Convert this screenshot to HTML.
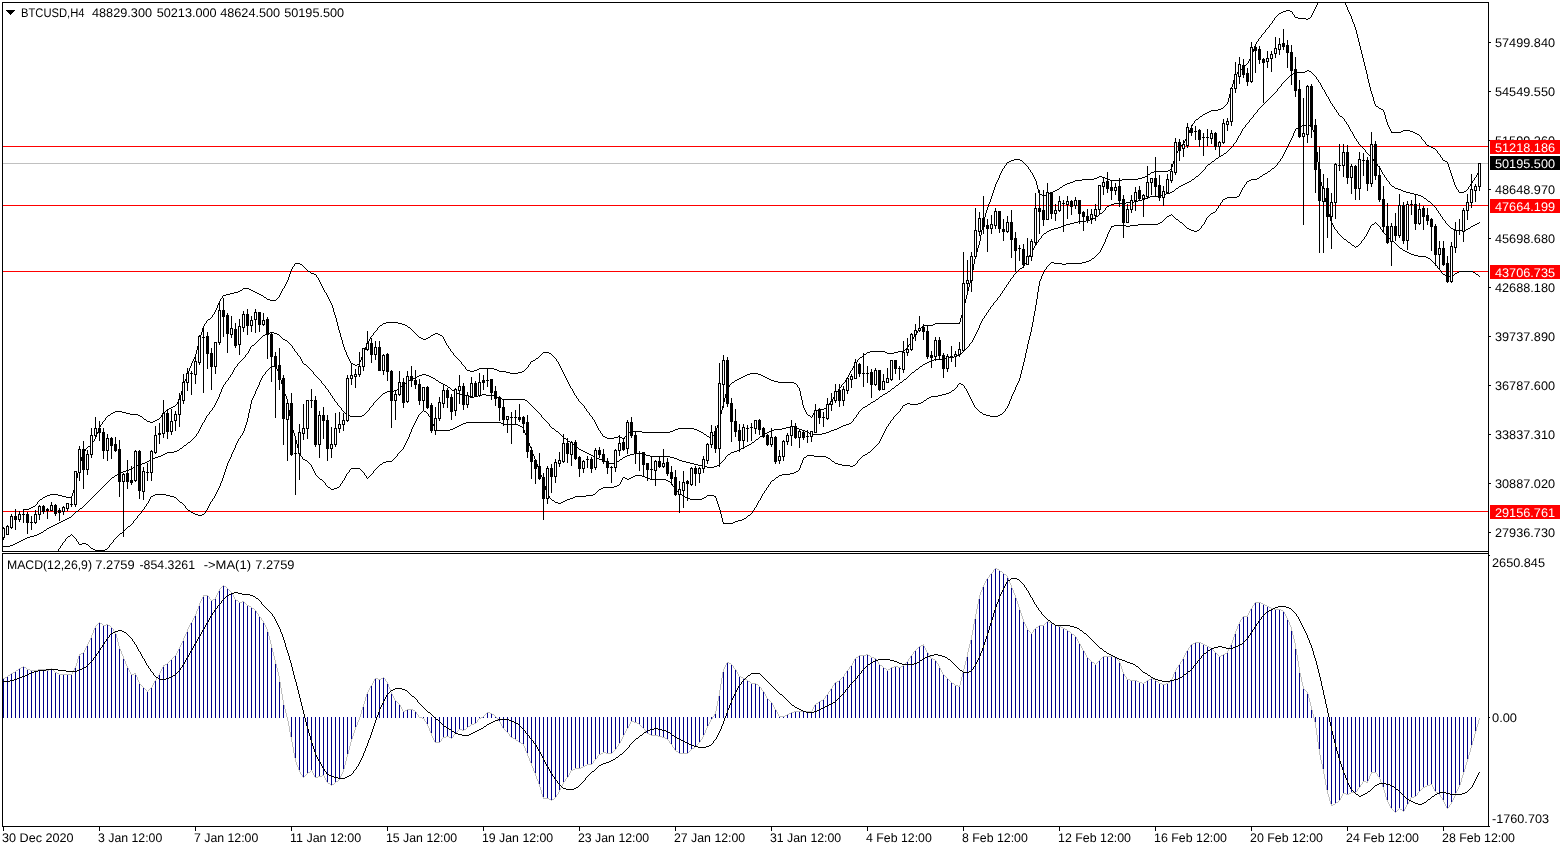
<!DOCTYPE html>
<html><head><meta charset="utf-8"><title>BTCUSD,H4</title>
<style>
html,body{margin:0;padding:0;background:#fff;}
body{width:1566px;height:850px;overflow:hidden;}
svg{display:block;}
.t{font-family:"Liberation Sans",sans-serif;font-size:12.5px;}
</style></head><body>
<svg width="1566" height="850" viewBox="0 0 1566 850" shape-rendering="crispEdges">
<rect x="3" y="163" width="1485" height="1" fill="#c0c0c0"/>
<rect x="3" y="146" width="1485" height="1" fill="#ff0000"/>
<rect x="3" y="205" width="1485" height="1" fill="#ff0000"/>
<rect x="3" y="271" width="1485" height="1" fill="#ff0000"/>
<rect x="3" y="511" width="1485" height="1" fill="#ff0000"/>
<path d="M340.5 333v4M1468.5 187v2M567.5 380v2M182.5 387v4M343.5 344v3M570.5 386v2M584.5 406v2M968.5 287v4M813.5 413v2M805.5 410v2M347.5 355v2M330.5 301v2M370.5 337v2M528.5 365v2M989.5 202v2M288.5 277v3M980.5 235v6M186.5 376v3M366.5 345v2M724.5 398v4M971.5 275v4M1361.5 50v4M854.5 364v2M1177.5 151v2M963.5 307v4M195.5 354v3M1347.5 7v3M1383.5 110v2M993.5 190v3M576.5 396v2M1348.5 10v2M712.5 436v2M975.5 255v4M1354.5 24v3M1294.5 15v2M369.5 339v2M595.5 422v2M1368.5 79v4M1371.5 91v3M1034.5 177v2M185.5 379v2M286.5 282v2M365.5 347v3M1192.5 124v2M568.5 382v2M217.5 305v3M1231.5 87v3M1175.5 155v3M1449.5 167v3M339.5 330v3M984.5 217v3M75.5 483v4M282.5 289v2M342.5 340v4M294.5 264v2M962.5 311v4M1452.5 176v3M1364.5 62v4M992.5 193v3M803.5 405v3M1004.5 166v2M1453.5 179v3M1365.5 66v4M328.5 297v2M331.5 303v2M1367.5 74v5M290.5 271v3M214.5 312v2M845.5 380v2M1000.5 173v2M719.5 418v4M966.5 295v4M184.5 381v3M1360.5 46v4M561.5 368v2M1191.5 126v2M100.5 425v2M1174.5 158v3M1349.5 12v2M1274.5 18v2M1346.5 5v2M1229.5 94v4M961.5 315v3M578.5 399v2M281.5 291v2M1353.5 22v2M1477.5 173v2M596.5 424v2M188.5 371v2M79.5 464v4M1171.5 167v2M1265.5 30v2M597.5 426v2M973.5 264v6M829.5 403v2M999.5 175v3M1370.5 87v4M1234.5 77v3M1470.5 184v2M362.5 355v2M1448.5 164v3M465.5 367v2M1311.5 15v2M98.5 429v3M200.5 335v4M1186.5 137v2M187.5 373v3M1232.5 84v3M289.5 274v3M986.5 210v3M560.5 366v2M563.5 372v2M1421.5 137v2M1373.5 97v4M219.5 301v2M322.5 286v2M1039.5 193v2M326.5 293v2M97.5 432v2M812.5 415v2M967.5 291v4M350.5 361v2M222.5 296v2M336.5 318v4M77.5 473v5M800.5 391v5M85.5 449v2M1362.5 54v4M218.5 303v2M801.5 396v4M284.5 286v2M280.5 293v2M292.5 267v2M1390.5 129v2M1235.5 75v2M92.5 442v2M1355.5 27v3M1251.5 55v2M105.5 418v2M1358.5 38v4M448.5 346v2M1472.5 181v2M838.5 389v2M321.5 284v2M1375.5 104v2M1038.5 189v4M569.5 384v2M834.5 395v2M908.5 345v2M348.5 357v2M804.5 408v2M349.5 359v2M197.5 346v4M1250.5 57v2M335.5 315v3M996.5 182v2M1258.5 39v2M1385.5 115v4M983.5 220v4M1350.5 14v2M1269.5 25v2M1187.5 135v2M1388.5 125v2M1254.5 46v3M96.5 434v3M833.5 397v2M1233.5 80v4M1178.5 149v2M964.5 303v4M450.5 349v2M1033.5 175v2M1425.5 142v2M995.5 184v3M802.5 400v5M853.5 366v2M982.5 224v6M1366.5 70v4M1454.5 182v3M1253.5 49v3M806.5 412v2M589.5 413v2M333.5 308v4M849.5 373v2M78.5 468v5M443.5 337v2M1359.5 42v4M977.5 248v4M994.5 187v3M626.5 434v2M852.5 368v2M1384.5 112v3M1002.5 169v2M199.5 339v3M848.5 375v2M981.5 230v5M1369.5 83v4M917.5 331v2M726.5 390v4M1035.5 179v2M913.5 337v2M985.5 213v4M453.5 353v2M194.5 357v2M1228.5 98v4M721.5 410v4M81.5 457v4M332.5 305v3M72.5 493v3M177.5 402v2M1317.5 3v2M206.5 321v2M364.5 350v2M562.5 370v2M716.5 428v3M565.5 376v2M912.5 339v2M202.5 328v4M324.5 290v2M181.5 391v4M345.5 350v2M71.5 496v2M988.5 204v3M1316.5 5v2M1437.5 151v2M99.5 427v2M201.5 332v3M530.5 362v2M974.5 259v5M368.5 341v2M196.5 350v4M220.5 299v2M564.5 374v2M285.5 284v2M723.5 402v4M74.5 487v3M323.5 288v2M344.5 347v3M718.5 422v3M556.5 359v2M1194.5 121v2M965.5 299v4M183.5 384v3M1345.5 3v2M1190.5 128v2M1006.5 163v2M1173.5 161v3M1352.5 19v3M960.5 318v4M729.5 385v2M847.5 377v2M1252.5 52v3M1476.5 175v2M998.5 178v2M1372.5 94v3M361.5 357v3M976.5 252v3M1456.5 187v2M279.5 295v2M190.5 366v2M291.5 269v2M558.5 362v2M76.5 478v5M1313.5 11v2M161.5 415v2M1351.5 16v3M1389.5 127v2M857.5 360v2M338.5 326v4M979.5 241v4M1451.5 173v3M814.5 411v2M1312.5 13v2M572.5 389v2M359.5 362v2M1458.5 190v2M180.5 395v4M586.5 409v2M95.5 437v2M367.5 343v2M461.5 362v2M216.5 308v2M1391.5 131v2M1237.5 72v2M212.5 315v2M94.5 439v2M1249.5 59v2M1036.5 181v4M1189.5 130v3M1450.5 170v3M573.5 391v2M215.5 310v2M1001.5 171v2M198.5 342v4M725.5 394v4M972.5 270v5M373.5 333v2M346.5 352v3M1172.5 164v3M189.5 368v3M80.5 461v3M598.5 428v2M602.5 434v2M797.5 385v2M1176.5 153v2M715.5 431v2M360.5 360v2M1357.5 34v4M987.5 207v3M1179.5 147v2M1037.5 185v4M83.5 452v2M1230.5 90v4M341.5 337v3M970.5 279v4M327.5 295v2M1455.5 185v2M334.5 312v3M600.5 431v2M337.5 322v4M1440.5 155v2M799.5 388v3M363.5 352v3M316.5 275v2M722.5 406v4M319.5 280v2M1387.5 122v3M82.5 454v3M969.5 283v4M73.5 490v3M592.5 417v2M1356.5 30v4M717.5 425v3M1248.5 61v2M1261.5 35v2M1256.5 42v2M1272.5 21v2M1185.5 139v2M997.5 180v2M445.5 341v2M1028.5 167v2M1442.5 158v2M318.5 278v2M377.5 328v2M1386.5 119v3M1188.5 133v2M1255.5 44v2M37.5 502v2M1227.5 102v2M720.5 414v4M1184.5 141v2M287.5 280v2M624.5 437v2M850.5 371v2M1030.5 170v2M444.5 339v2M978.5 245v3M1374.5 101v3M192.5 361v2M179.5 399v2M991.5 196v3M1478.5 171v2M727.5 388v2M1474.5 178v2M914.5 335v2M204.5 324v2M910.5 342v2M1363.5 58v4M836.5 392v2M191.5 363v3M574.5 393v2M990.5 199v3M832.5 399v2M1292.5 12v2M1032.5 173v2M203.5 326v2M566.5 378v2M329.5 299v2M959.5 322v2M594.5 420v2M193.5 359v2M841.5 385v2M320.5 282v2M1315.5 7v2M102.5 422v2M1447.5 162v2M714.5 433v2M559.5 364v2M446.5 343v2M1314.5 9v2M741 377.5h2M765 377.5h2M1392 132.5h9M1413 132.5h2M372 335.5h1M417 335.5h1M431 335.5h2M440 335.5h2M205 323.5h1M383 323.5h3M398 323.5h4M935 323.5h24M706 435.5h1M713 435.5h1M1224 106.5h1M1376 106.5h2M1075 180.5h7M1110 180.5h12M1473 180.5h1M111 413.5h2M126 413.5h4M163 413.5h1M113 412.5h2M122 412.5h4M164 412.5h1M588 412.5h1M459 360.5h1M533 360.5h2M144 419.5h2M157 419.5h2M593 419.5h1M386 322.5h12M353 364.5h2M357 364.5h2M462 364.5h1M529 364.5h1M678 428.5h16M1082 179.5h12M1107 179.5h3M1122 179.5h16M1168 170.5h2M1479 170.5h1M457 358.5h1M536 358.5h2M555 358.5h1M859 358.5h1M1283 11.5h3M1290 11.5h2M1154 171.5h14M264 297.5h2M278 297.5h1M452 352.5h1M543 352.5h6M867 352.5h3M885 352.5h2M894 352.5h4M743 376.5h2M763 376.5h2M1148 174.5h2M45 496.5h2M62 496.5h4M1005 165.5h1M1026 165.5h1M411 329.5h1M919 329.5h1M1298 18.5h8M1308 18.5h2M1051 192.5h2M1459 192.5h5M605 437.5h2M614 437.5h4M620 437.5h2M709 437.5h2M1057 189.5h2M1457 189.5h1M1467 189.5h1M93 441.5h1M1053 191.5h2M1464 191.5h2M1031 172.5h1M1151 172.5h3M173 406.5h2M827 406.5h1M240 290.5h2M251 290.5h2M542 353.5h1M549 353.5h2M866 353.5h1M887 353.5h7M455 356.5h1M539 356.5h1M553 356.5h1M862 356.5h1M571 388.5h1M839 388.5h1M601 433.5h1M627 433.5h2M703 433.5h1M371 336.5h1M418 336.5h1M430 336.5h1M442 336.5h1M1239 70.5h1M732 382.5h2M778 382.5h16M844 382.5h1M451 351.5h1M870 351.5h15M898 351.5h6M208 319.5h2M510 373.5h8M750 373.5h8M479 368.5h15M526 368.5h1M1218 109.5h3M1381 109.5h2M1417 134.5h2M167 409.5h2M818 409.5h6M1419 135.5h1M1401 131.5h2M1410 131.5h3M506 372.5h4M518 372.5h4M599 430.5h1M673 430.5h2M697 430.5h2M243 288.5h6M283 288.5h1M1240 69.5h2M293 266.5h1M303 266.5h1M470 371.5h4M499 371.5h7M522 371.5h2M603 436.5h2M618 436.5h2M625 436.5h1M707 436.5h2M1063 185.5h2M106 417.5h1M142 417.5h1M160 417.5h1M811 417.5h1M107 416.5h1M140 416.5h2M591 416.5h1M810 416.5h1M1040 194.5h2M1046 194.5h3M419 337.5h2M428 337.5h2M375 331.5h1M413 331.5h1M1065 184.5h2M234 292.5h4M255 292.5h2M325 292.5h1M108 415.5h2M138 415.5h2M590 415.5h1M808 415.5h2M629 432.5h2M642 432.5h28M701 432.5h2M1182 144.5h1M1426 144.5h1M1225 105.5h1M223 295.5h3M261 295.5h2M175 405.5h1M583 405.5h1M828 405.5h1M103 421.5h1M147 421.5h3M153 421.5h2M382 324.5h1M402 324.5h3M933 324.5h2M1431 147.5h2M110 414.5h1M130 414.5h8M162 414.5h1M807 414.5h1M1403 130.5h7M1150 173.5h1M42 498.5h1M380 325.5h2M405 325.5h2M923 325.5h10M581 403.5h1M460 361.5h1M531 361.5h2M557 361.5h1M607 438.5h7M622 438.5h1M711 438.5h1M143 418.5h1M159 418.5h1M467 370.5h3M474 370.5h3M497 370.5h2M524 370.5h1M851 370.5h1M169 408.5h2M585 408.5h1M824 408.5h2M1009 161.5h2M1022 161.5h1M1445 161.5h2M1073 181.5h2M454 355.5h1M540 355.5h1M552 355.5h1M863 355.5h1M1211 110.5h7M242 289.5h1M249 289.5h2M835 394.5h1M29 508.5h2M47 495.5h3M58 495.5h4M171 407.5h2M826 407.5h1M1423 140.5h1M1011 160.5h3M1020 160.5h2M1443 160.5h2M1247 63.5h1M1007 162.5h2M1023 162.5h1M1275 17.5h1M1295 17.5h3M1310 17.5h1M1203 114.5h2M1270 24.5h1M1097 177.5h2M1102 177.5h3M1142 177.5h3M1475 177.5h1M1238 71.5h1M213 314.5h1M226 294.5h4M259 294.5h2M1245 65.5h1M739 378.5h2M767 378.5h2M1180 146.5h1M1429 146.5h2M50 494.5h8M911 341.5h1M734 381.5h1M774 381.5h4M1055 190.5h2M1466 190.5h1M907 347.5h1M355 365.5h2M463 365.5h1M43 497.5h2M66 497.5h5M36 504.5h1M104 420.5h1M146 420.5h1M155 420.5h2M1183 143.5h1M456 357.5h1M538 357.5h1M554 357.5h1M860 357.5h2M631 431.5h11M670 431.5h3M699 431.5h2M379 326.5h1M407 326.5h1M922 326.5h1M374 332.5h1M414 332.5h1M1147 175.5h1M1094 178.5h3M1105 178.5h2M1138 178.5h4M466 369.5h1M477 369.5h2M494 369.5h3M525 369.5h1M1181 145.5h1M1427 145.5h2M1014 159.5h6M23 509.5h6M1070 182.5h3M730 384.5h1M796 384.5h1M842 384.5h1M1196 119.5h2M267 299.5h3M276 299.5h1M178 401.5h1M579 401.5h1M831 401.5h1M747 374.5h3M758 374.5h3M541 354.5h1M551 354.5h1M864 354.5h2M207 320.5h1M1435 149.5h1M314 274.5h2M1042 195.5h4M1099 176.5h3M1145 176.5h2M351 363.5h2M855 363.5h1M270 300.5h6M415 333.5h1M435 333.5h3M916 333.5h1M1246 64.5h1M230 293.5h4M257 293.5h2M1281 12.5h2M527 367.5h1M33 506.5h2M731 383.5h1M794 383.5h2M843 383.5h1M458 359.5h1M535 359.5h1M858 359.5h1M1262 34.5h1M1415 133.5h2M737 379.5h2M769 379.5h2M846 379.5h1M1257 41.5h1M305 268.5h1M1306 19.5h2M40 499.5h2M35 505.5h1M86 448.5h1M378 327.5h1M408 327.5h2M921 327.5h1M300 264.5h2M1422 139.5h1M166 410.5h1M815 410.5h3M704 434.5h2M735 380.5h2M771 380.5h3M1003 168.5h1M1025 164.5h1M728 387.5h1M798 387.5h1M840 387.5h1M1439 154.5h1M1221 108.5h2M1379 108.5h2M307 270.5h1M1420 136.5h1M421 338.5h2M426 338.5h2M115 411.5h7M165 411.5h1M587 411.5h1M295 263.5h5M1278 14.5h1M1293 14.5h1M317 277.5h1M745 375.5h2M761 375.5h2M1029 169.5h1M1170 169.5h1M1433 148.5h2M263 296.5h1M311 273.5h3M1209 111.5h2M84 451.5h1M575 395.5h1M91 444.5h1M238 291.5h2M253 291.5h2M1202 115.5h1M1286 10.5h4M416 334.5h1M433 334.5h2M438 334.5h2M915 334.5h1M1193 123.5h1M1424 141.5h1M1244 66.5h1M304 267.5h1M376 330.5h1M412 330.5h1M918 330.5h1M1060 187.5h2M1200 116.5h2M675 429.5h3M694 429.5h3M1268 27.5h1M1027 166.5h1M211 317.5h1M1263 33.5h1M1279 13.5h2M1067 183.5h3M1471 183.5h1M310 272.5h1M904 350.5h1M221 298.5h1M266 298.5h1M277 298.5h1M1438 153.5h1M306 269.5h1M1195 120.5h1M90 445.5h1M1436 150.5h1M1273 20.5h1M423 339.5h3M1236 74.5h1M449 348.5h1M906 348.5h1M1062 186.5h1M1469 186.5h1M150 422.5h3M464 366.5h1M1243 67.5h1M1267 28.5h1M1223 107.5h1M1378 107.5h1M210 318.5h1M1207 112.5h2M302 265.5h1M410 328.5h1M920 328.5h1M176 404.5h1M582 404.5h1M447 345.5h1M87 447.5h1M308 271.5h2M837 391.5h1M623 439.5h1M1198 118.5h1M1059 188.5h1M88 446.5h2M1277 15.5h1M577 398.5h1M905 349.5h1M856 362.5h1M1260 37.5h1M1271 23.5h1M1049 193.5h2M580 402.5h1M830 402.5h1M1226 104.5h1M31 507.5h2M1276 16.5h1M909 344.5h1M1205 113.5h2M38 501.5h1M1024 163.5h1M1264 32.5h1M1259 38.5h1M1199 117.5h1M1441 157.5h1M1242 68.5h1M1266 29.5h1M39 500.5h1M101 424.5h1" fill="none" stroke="#000" stroke-width="1"/>
<path d="M1334.5 107v2M979.5 325v3M1338.5 113v2M1353.5 134v2M297.5 353v2M549.5 424v2M301.5 359v2M216.5 401v2M1326.5 94v2M337.5 403v2M212.5 408v2M341.5 408v2M1010.5 279v2M1233.5 144v2M1440.5 214v2M1373.5 159v2M215.5 403v2M1336.5 110v2M206.5 416v2M1249.5 120v2M1354.5 136v2M1365.5 150v2M1004.5 288v2M202.5 423v2M972.5 340v2M325.5 386v2M1000.5 294v2M1328.5 97v2M1240.5 133v2M1105.5 208v2M205.5 418v2M988.5 310v2M201.5 425v2M1036.5 243v2M982.5 319v2M245.5 355v2M196.5 434v2M1238.5 136v2M853.5 419v2M1384.5 175v2M1253.5 115v2M223.5 385v2M993.5 303v2M1008.5 282v2M321.5 381v2M1380.5 168v2M984.5 316v2M1325.5 92v2M222.5 387v2M1442.5 217v2M1386.5 178v2M233.5 370v2M249.5 349v2M1034.5 246v2M302.5 361v2M1030.5 253v2M209.5 412v2M858.5 412v2M978.5 328v2M1026.5 261v2M232.5 372v2M1445.5 221v2M1320.5 83v2M228.5 378v2M1389.5 182v2M1013.5 275v2M973.5 338v2M969.5 344v2M1257.5 110v2M997.5 298v2M1344.5 119v2M219.5 394v3M369.5 408v2M725.5 457v2M328.5 390v2M1349.5 127v2M237.5 364v2M248.5 351v2M1006.5 285v2M204.5 420v2M974.5 336v2M1002.5 291v2M200.5 427v2M330.5 393v2M1242.5 129v2M1041.5 236v2M1245.5 125v2M1377.5 164v2M1381.5 170v2M199.5 429v2M981.5 321v2M1241.5 131v2M1329.5 99v2M1237.5 138v2M292.5 346v2M1318.5 80v2M1321.5 85v2M198.5 431v2M980.5 323v2M1236.5 140v2M217.5 399v2M313.5 372v2M1346.5 122v2M990.5 307v2M1356.5 139v2M986.5 313v2M1277.5 89v2M1348.5 125v2M300.5 357v2M977.5 330v2M1358.5 142v2M218.5 397v2M214.5 405v2M332.5 396v2M856.5 415v2M225.5 382v2M221.5 389v3M294.5 349v2M334.5 399v2M1281.5 84v2M1330.5 101v2M1032.5 250v2M1322.5 87v2M234.5 368v2M1436.5 208v2M250.5 347v2M230.5 375v2M541.5 415v2M1205.5 167v2M1332.5 104v2M1027.5 259v2M1350.5 129v2M1324.5 90v2M373.5 403v2M1038.5 240v2M1316.5 77v2M1352.5 132v2M220.5 392v2M1033.5 248v2M1029.5 255v2M1028.5 257v2M976.5 332v2M1024.5 264v2M975.5 334v2M1438.5 211v2M1382.5 172v2M1074 222.5h4M1479 222.5h1M92 497.5h1M1172 191.5h2M1403 191.5h3M197 433.5h1M559 433.5h1M765 433.5h2M809 433.5h2M822 433.5h4M326 388.5h1M399 388.5h1M450 388.5h1M892 388.5h2M339 406.5h1M371 406.5h1M532 406.5h1M865 406.5h2M142 463.5h3M607 463.5h7M690 463.5h4M720 463.5h1M161 455.5h2M591 455.5h2M627 455.5h3M646 455.5h4M727 455.5h1M394 390.5h3M452 390.5h2M890 390.5h1M149 460.5h2M602 460.5h2M619 460.5h1M679 460.5h3M723 460.5h1M377 399.5h1M502 399.5h23M876 399.5h2M1191 180.5h1M1387 180.5h1M406 382.5h1M439 382.5h2M900 382.5h2M1049 230.5h2M1455 230.5h11M387 391.5h7M454 391.5h1M888 391.5h2M335 401.5h1M375 401.5h1M527 401.5h1M873 401.5h2M1230 148.5h1M1363 148.5h1M383 393.5h2M457 393.5h2M885 393.5h2M336 402.5h1M374 402.5h1M528 402.5h1M871 402.5h2M550 426.5h1M790 426.5h4M841 426.5h2M1147 197.5h3M1423 197.5h1M99 490.5h1M561 435.5h1M762 435.5h1M158 456.5h3M593 456.5h2M625 456.5h2M650 456.5h20M726 456.5h1M1109 205.5h2M1433 205.5h1M846 424.5h3M145 462.5h2M606 462.5h1M614 462.5h3M686 462.5h4M721 462.5h1M558 432.5h1M767 432.5h2M807 432.5h2M826 432.5h3M350 416.5h12M554 429.5h1M774 429.5h8M799 429.5h3M834 429.5h3M241 360.5h1M931 360.5h3M316 376.5h1M417 376.5h2M429 376.5h2M908 376.5h1M133 467.5h2M707 467.5h7M13 544.5h2M165 453.5h2M587 453.5h2M634 453.5h8M730 453.5h1M1345 121.5h1M1162 194.5h4M1414 194.5h4M106 483.5h1M1211 162.5h1M1375 162.5h1M147 461.5h2M604 461.5h2M617 461.5h2M682 461.5h4M722 461.5h1M299 356.5h1M954 356.5h3M1086 220.5h4M1444 220.5h1M555 430.5h1M771 430.5h3M802 430.5h3M831 430.5h3M379 397.5h1M470 397.5h4M497 397.5h2M879 397.5h1M1212 161.5h2M1374 161.5h1M311 370.5h1M915 370.5h1M1183 184.5h2M1390 184.5h1M244 357.5h1M946 357.5h8M1016 272.5h1M1179 186.5h2M1392 186.5h2M1138 200.5h4M1427 200.5h1M1063 225.5h3M1448 225.5h1M1473 225.5h2M71 516.5h1M382 394.5h1M459 394.5h3M482 394.5h4M883 394.5h2M211 410.5h1M342 410.5h1M368 410.5h1M536 410.5h1M860 410.5h1M174 451.5h3M583 451.5h2M734 451.5h3M231 374.5h1M314 374.5h1M422 374.5h4M910 374.5h1M1058 227.5h3M1450 227.5h1M1470 227.5h1M331 395.5h1M381 395.5h1M462 395.5h4M478 395.5h4M486 395.5h8M882 395.5h1M552 428.5h2M782 428.5h4M797 428.5h2M837 428.5h2M163 454.5h2M589 454.5h2M630 454.5h4M642 454.5h4M728 454.5h2M139 464.5h3M694 464.5h4M719 464.5h1M1351 131.5h1M256 342.5h1M288 342.5h1M971 342.5h1M34 535.5h3M318 378.5h1M413 378.5h2M433 378.5h2M906 378.5h1M1093 218.5h2M1305 71.5h2M1309 71.5h2M183 446.5h1M575 446.5h1M745 446.5h2M227 380.5h1M320 380.5h1M409 380.5h2M436 380.5h2M903 380.5h1M1020 268.5h2M1295 72.5h10M1311 72.5h1M1174 190.5h1M1401 190.5h2M1078 221.5h8M213 407.5h1M340 407.5h1M370 407.5h1M533 407.5h1M863 407.5h2M1221 155.5h2M1369 155.5h1M964 350.5h1M1043 234.5h1M1070 223.5h4M1446 223.5h1M1477 223.5h2M151 459.5h2M599 459.5h3M620 459.5h2M677 459.5h2M724 459.5h1M259 339.5h1M283 339.5h2M1189 181.5h2M1388 181.5h1M86 503.5h1M1248 122.5h1M167 452.5h7M585 452.5h2M731 452.5h3M123 471.5h3M182 447.5h1M576 447.5h2M743 447.5h2M1243 128.5h1M1210 163.5h1M1376 163.5h1M119 473.5h2M1259 108.5h1M46 529.5h1M1274 93.5h1M1239 135.5h1M135 466.5h2M705 466.5h2M714 466.5h3M93 496.5h1M1291 74.5h2M1313 74.5h1M65 519.5h2M1235 142.5h1M263 335.5h2M279 335.5h1M61 521.5h2M1187 182.5h2M105 484.5h1M262 336.5h1M280 336.5h1M270 332.5h4M252 345.5h2M291 345.5h1M1224 153.5h2M1367 153.5h1M184 445.5h2M574 445.5h1M747 445.5h2M208 414.5h1M346 414.5h1M364 414.5h1M540 414.5h1M857 414.5h1M1293 73.5h2M1312 73.5h1M1227 151.5h1M1150 196.5h8M1421 196.5h2M1199 174.5h1M1383 174.5h1M242 359.5h1M934 359.5h8M1015 273.5h1M1145 198.5h2M1424 198.5h2M240 361.5h1M929 361.5h2M112 477.5h2M1134 201.5h4M1428 201.5h2M1158 195.5h4M1418 195.5h3M1126 202.5h8M1430 202.5h1M190 441.5h1M568 441.5h2M754 441.5h1M556 431.5h2M769 431.5h2M805 431.5h2M829 431.5h2M1175 189.5h1M1398 189.5h3M1206 166.5h1M1378 166.5h1M153 458.5h2M597 458.5h2M622 458.5h1M674 458.5h3M312 371.5h1M914 371.5h1M1307 70.5h2M243 358.5h1M942 358.5h4M1203 170.5h1M843 425.5h3M53 525.5h2M114 476.5h1M324 385.5h1M402 385.5h1M445 385.5h2M896 385.5h2M1340 116.5h2M229 377.5h1M317 377.5h1M415 377.5h2M431 377.5h2M907 377.5h1M72 515.5h1M1009 281.5h1M1061 226.5h2M1449 226.5h1M1471 226.5h2M298 355.5h1M957 355.5h2M530 404.5h1M868 404.5h2M261 337.5h1M281 337.5h1M338 405.5h1M372 405.5h1M531 405.5h1M867 405.5h1M260 338.5h1M282 338.5h1M194 437.5h1M563 437.5h1M759 437.5h1M177 450.5h2M581 450.5h2M737 450.5h2M1166 193.5h4M1410 193.5h4M55 524.5h2M193 438.5h1M564 438.5h2M758 438.5h1M1095 217.5h1M79 509.5h1M1261 106.5h1M1333 106.5h1M180 448.5h2M578 448.5h1M741 448.5h2M380 396.5h1M466 396.5h4M474 396.5h4M494 396.5h3M880 396.5h2M21 540.5h2M210 411.5h1M343 411.5h1M367 411.5h1M537 411.5h1M859 411.5h1M69 517.5h2M551 427.5h1M786 427.5h4M794 427.5h3M839 427.5h2M137 465.5h2M698 465.5h7M717 465.5h2M1268 99.5h1M306 365.5h1M922 365.5h1M344 412.5h1M366 412.5h1M538 412.5h1M319 379.5h1M411 379.5h2M435 379.5h1M904 379.5h2M265 334.5h2M277 334.5h2M560 434.5h1M763 434.5h2M811 434.5h11M999 296.5h1M1280 86.5h1M1275 92.5h1M295 351.5h1M963 351.5h1M1252 117.5h1M1342 117.5h1M1100 213.5h2M1439 213.5h1M85 504.5h1M224 384.5h1M323 384.5h1M403 384.5h1M443 384.5h2M898 384.5h1M304 364.5h2M923 364.5h2M376 400.5h1M525 400.5h2M875 400.5h1M987 312.5h1M1035 245.5h1M1114 203.5h12M1431 203.5h1M1278 88.5h1M1176 188.5h2M1395 188.5h3M1286 79.5h1M1317 79.5h1M1111 204.5h3M1432 204.5h1M345 413.5h1M365 413.5h1M539 413.5h1M1031 252.5h1M1107 206.5h2M1434 206.5h1M15 543.5h2M257 341.5h1M287 341.5h1M1290 75.5h1M1314 75.5h1M10 545.5h3M258 340.5h1M285 340.5h2M315 375.5h1M419 375.5h3M426 375.5h3M909 375.5h1M3 546.5h7M104 485.5h1M155 457.5h3M595 457.5h2M623 457.5h2M670 457.5h4M1170 192.5h2M1406 192.5h4M1226 152.5h1M1366 152.5h1M1204 169.5h1M1014 274.5h1M49 527.5h2M1271 96.5h1M1327 96.5h1M255 343.5h1M289 343.5h1M970 343.5h1M111 478.5h1M129 469.5h2M30 536.5h4M267 333.5h3M274 333.5h3M1096 216.5h2M1441 216.5h1M187 443.5h1M571 443.5h1M751 443.5h1M236 366.5h1M307 366.5h1M920 366.5h2M1207 165.5h1M235 367.5h1M308 367.5h1M919 367.5h1M1283 82.5h1M1319 82.5h1M51 526.5h2M911 373.5h1M998 297.5h1M1256 112.5h1M1337 112.5h1M1254 114.5h1M188 442.5h2M570 442.5h1M752 442.5h2M546 421.5h1M852 421.5h1M1025 263.5h1M1355 138.5h1M238 363.5h1M303 363.5h1M925 363.5h2M78 510.5h1M1260 107.5h1M1054 228.5h4M1451 228.5h2M1468 228.5h2M179 449.5h1M579 449.5h2M739 449.5h2M327 389.5h1M397 389.5h2M451 389.5h1M891 389.5h1M121 472.5h2M1251 118.5h1M1343 118.5h1M195 436.5h1M562 436.5h1M760 436.5h2M1216 158.5h2M1372 158.5h1M992 305.5h1M91 498.5h1M1246 124.5h1M1347 124.5h1M1040 238.5h1M192 439.5h1M566 439.5h1M756 439.5h2M1264 103.5h1M1331 103.5h1M1284 81.5h1M1066 224.5h4M1447 224.5h1M1475 224.5h2M191 440.5h1M567 440.5h1M755 440.5h1M310 369.5h1M916 369.5h2M1279 87.5h1M1181 185.5h2M1391 185.5h1M98 491.5h1M1142 199.5h3M1426 199.5h1M1047 231.5h2M41 532.5h2M333 398.5h1M378 398.5h1M499 398.5h3M878 398.5h1M1339 115.5h1M1357 141.5h1M1232 146.5h1M1361 146.5h1M529 403.5h1M870 403.5h1M400 387.5h1M448 387.5h2M894 387.5h1M239 362.5h1M927 362.5h2M535 409.5h1M861 409.5h1M131 468.5h2M1022 267.5h1M126 470.5h3M912 372.5h2M207 415.5h1M347 415.5h3M362 415.5h2M67 518.5h2M186 444.5h1M572 444.5h2M749 444.5h2M293 348.5h1M966 348.5h1M329 392.5h1M385 392.5h2M455 392.5h2M887 392.5h1M75 512.5h1M1273 94.5h1M247 353.5h1M960 353.5h2M1102 212.5h1M1214 160.5h1M59 522.5h2M1185 183.5h2M309 368.5h1M918 368.5h1M83 506.5h1M203 422.5h1M547 422.5h1M851 422.5h1M251 346.5h1M968 346.5h1M43 531.5h1M1044 233.5h2M90 499.5h1M1039 239.5h1M1231 147.5h1M1362 147.5h1M1051 229.5h3M1453 229.5h2M1466 229.5h2M27 537.5h3M1178 187.5h1M1394 187.5h1M97 492.5h1M322 383.5h1M404 383.5h2M441 383.5h2M899 383.5h1M1046 232.5h1M1196 176.5h2M109 480.5h1M1192 179.5h2M226 381.5h1M407 381.5h2M438 381.5h1M902 381.5h1M1208 164.5h2M1019 269.5h1M1011 278.5h1M1229 149.5h1M1364 149.5h1M1090 219.5h3M1443 219.5h1M1323 89.5h1M76 511.5h2M115 475.5h2M1218 157.5h1M1371 157.5h1M17 542.5h2M296 352.5h1M962 352.5h1M1265 102.5h1M1285 80.5h1M542 417.5h1M855 417.5h1M1001 293.5h1M401 386.5h1M447 386.5h1M895 386.5h1M1106 207.5h1M1435 207.5h1M1272 95.5h1M39 533.5h2M1269 98.5h1M1289 76.5h1M1315 76.5h1M989 309.5h1M534 408.5h1M862 408.5h1M82 507.5h1M103 486.5h1M1276 91.5h1M89 500.5h1M254 344.5h1M290 344.5h1M110 479.5h1M544 419.5h1M1201 172.5h1M1012 277.5h1M108 481.5h1M1007 284.5h1M1223 154.5h1M1368 154.5h1M1018 270.5h1M1003 290.5h1M1215 159.5h1M246 354.5h1M959 354.5h1M991 306.5h1M84 505.5h1M1359 144.5h1M1360 145.5h1M1266 101.5h1M57 523.5h2M117 474.5h2M994 302.5h1M1098 215.5h1M88 501.5h1M1250 119.5h1M985 315.5h1M25 538.5h2M95 494.5h1M1194 178.5h1M1288 77.5h1M102 487.5h1M47 528.5h2M1379 167.5h1M19 541.5h2M1200 173.5h1M74 513.5h1M1247 123.5h1M1023 266.5h1M548 423.5h1M849 423.5h2M1258 109.5h1M1335 109.5h1M967 347.5h1M995 301.5h1M1270 97.5h1M37 534.5h2M1104 210.5h1M1437 210.5h1M1099 214.5h1M80 508.5h2M1262 105.5h1M1103 211.5h1M1195 177.5h1M1385 177.5h1M87 502.5h1M1037 242.5h1M1202 171.5h1M94 495.5h1M44 530.5h2M101 488.5h1M73 514.5h1M543 418.5h1M854 418.5h1M1282 83.5h1M96 493.5h1M23 539.5h2M1219 156.5h2M1370 156.5h1M1042 235.5h1M100 489.5h1M63 520.5h2M107 482.5h1M1234 143.5h1M545 420.5h1M1017 271.5h1M1198 175.5h1M1005 287.5h1M996 300.5h1M965 349.5h1M1263 104.5h1M1244 127.5h1M1255 113.5h1M1267 100.5h1M1287 78.5h1M1228 150.5h1M983 318.5h1" fill="none" stroke="#000" stroke-width="1"/>
<path d="M1044.5 270v2M1318.5 162v10M1311.5 125v2M1361.5 241v2M144.5 507v2M288.5 404v6M722.5 518v4M957.5 385v2M366.5 476v2M258.5 385v2M432.5 421v3M1110.5 228v2M418.5 415v2M1323.5 190v4M1041.5 276v3M1295.5 129v2M1283.5 154v2M246.5 422v3M137.5 516v2M281.5 380v4M1317.5 152v10M284.5 391v3M718.5 504v3M230.5 457v2M537.5 464v3M1013.5 392v2M799.5 468v2M249.5 409v4M312.5 467v2M540.5 472v3M1314.5 132v3M1035.5 305v6M302.5 457v2M435.5 429v2M1040.5 279v2M78.5 542v2M345.5 476v2M254.5 394v2M244.5 428v3M1025.5 353v5M1326.5 202v4M886.5 427v2M1327.5 206v4M1329.5 214v3M240.5 436v2M373.5 471v2M721.5 514v4M248.5 413v5M971.5 399v2M525.5 433v2M1034.5 311v5M1020.5 374v4M1337.5 231v2M1316.5 142v10M1322.5 186v4M1009.5 401v3M280.5 376v4M1038.5 286v6M529.5 443v3M1367.5 232v2M283.5 388v3M535.5 459v3M1005.5 409v2M1017.5 383v2M243.5 431v2M885.5 429v2M1037.5 292v7M297.5 444v4M411.5 429v3M227.5 463v3M542.5 477v3M1312.5 127v3M881.5 437v2M58.5 549v2M1382.5 230v2M325.5 483v2M1313.5 130v2M545.5 486v4M622.5 478v2M1100.5 250v2M247.5 418v4M434.5 426v3M674.5 487v2M235.5 445v3M290.5 416v6M1033.5 316v6M1366.5 234v2M149.5 499v2M719.5 507v3M969.5 395v2M410.5 432v2M275.5 365v2M524.5 430v3M234.5 448v2M530.5 446v2M531.5 448v3M1107.5 234v3M295.5 436v4M534.5 456v3M1292.5 136v2M250.5 404v5M409.5 434v3M1331.5 221v2M1010.5 399v2M1324.5 194v4M221.5 481v2M1106.5 237v2M1291.5 138v2M1031.5 327v5M242.5 433v2M1036.5 299v6M298.5 448v4M428.5 414v2M238.5 439v2M1320.5 178v4M1039.5 281v5M547.5 493v2M253.5 396v2M293.5 430v3M220.5 483v3M294.5 433v3M1104.5 242v2M1290.5 140v2M1204.5 222v2M1330.5 217v4M1220.5 203v2M1286.5 148v2M882.5 435v2M1022.5 366v4M1008.5 404v2M1216.5 209v2M532.5 451v3M1016.5 385v2M286.5 396v3M539.5 469v3M62.5 543v2M430.5 417v2M311.5 465v2M1029.5 336v4M314.5 471v2M546.5 490v3M349.5 470v2M76.5 539v2M762.5 494v2M231.5 454v3M1328.5 210v4M801.5 463v2M758.5 501v2M1277.5 163v2M1441.5 271v2M723.5 522v2M754.5 508v2M973.5 403v2M970.5 397v2M1321.5 182v4M406.5 441v2M210.5 502v2M1032.5 322v5M900.5 409v2M313.5 469v2M541.5 475v2M291.5 422v5M405.5 443v2M417.5 417v2M413.5 425v2M205.5 511v2M229.5 459v2M1102.5 246v2M768.5 485v2M237.5 441v2M1244.5 185v2M972.5 401v2M1287.5 146v2M526.5 435v3M277.5 369v2M1240.5 192v2M416.5 419v2M1026.5 349v4M265.5 372v2M412.5 427v2M536.5 462v2M148.5 501v2M261.5 378v2M964.5 386v2M1030.5 332v4M216.5 492v2M1333.5 225v2M236.5 443v2M212.5 499v2M1282.5 156v2M1294.5 131v2M1239.5 194v2M146.5 504v2M720.5 510v4M260.5 380v2M1012.5 394v2M215.5 494v2M276.5 367v2M223.5 475v3M549.5 496v2M1293.5 133v3M344.5 478v2M207.5 508v2M800.5 465v3M757.5 503v2M1024.5 358v4M966.5 389v2M1011.5 396v3M1332.5 223v2M289.5 410v6M1028.5 340v4M255.5 391v3M1370.5 226v2M1019.5 378v3M222.5 478v3M715.5 496v2M888.5 424v2M285.5 394v2M884.5 431v2M226.5 466v3M544.5 483v3M404.5 445v2M1027.5 344v5M109.5 545v2M883.5 433v2M225.5 469v3M1201.5 226v2M233.5 450v2M1319.5 172v6M364.5 473v2M1043.5 272v2M543.5 480v3M185.5 506v2M1021.5 370v4M315.5 473v2M257.5 387v2M232.5 452v2M1046.5 267v2M1042.5 274v2M893.5 417v2M279.5 373v3M256.5 389v2M282.5 384v4M296.5 440v4M538.5 467v2M1315.5 135v7M1369.5 228v2M1007.5 406v2M857.5 461v2M251.5 400v4M397.5 454v2M1015.5 387v3M1206.5 218v2M1023.5 362v4M1380.5 227v2M880.5 439v2M278.5 371v2M1368.5 230v2M1018.5 381v2M113.5 540v2M1364.5 237v2M968.5 393v2M1101.5 248v2M1334.5 227v2M879.5 441v2M1109.5 230v2M802.5 460v3M245.5 425v3M717.5 501v3M287.5 399v5M300.5 454v2M1108.5 232v2M716.5 498v3M299.5 452v2M621.5 480v2M1205.5 220v2M60.5 546v2M764.5 491v2M141.5 511v2M620.5 482v2M760.5 498v2M803.5 458v2M533.5 454v2M756.5 505v2M1014.5 390v2M408.5 437v2M431.5 419v2M752.5 511v2M224.5 472v3M346.5 474v2M1105.5 239v3M342.5 481v2M407.5 439v2M974.5 405v2M528.5 441v2M890.5 421v2M252.5 398v2M1437.5 266v2M219.5 486v2M1289.5 142v2M766.5 488v2M1285.5 150v2M1242.5 188v2M414.5 423v2M150.5 497v2M1325.5 198v4M65.5 539v2M218.5 488v2M1103.5 244v2M259.5 382v3M1222.5 200v2M1288.5 144v2M1218.5 206v2M1284.5 152v2M1241.5 190v2M527.5 438v3M292.5 427v3M761.5 496v2M1280.5 159v2M262.5 376v2M217.5 490v2M209.5 504v2M672.5 484v2M208.5 506v2M902.5 406v2M228.5 461v2M967.5 391v2M403.5 447v2M415.5 421v2M340.5 484v2M770.5 482v2M1246.5 182v2M433.5 424v2M523.5 428v2M214.5 496v2M1111.5 226v2M133.5 521v2M1440 270.5h1M132 523.5h1M724 523.5h9M1095 256.5h1M1418 256.5h8M395 457.5h1M804 457.5h2M826 457.5h2M861 457.5h1M1114 225.5h12M1130 225.5h8M1184 225.5h1M1202 225.5h1M1371 225.5h1M1378 225.5h1M179 501.5h1M211 501.5h1M554 501.5h1M563 501.5h2M1050 263.5h1M1054 263.5h8M1066 263.5h16M1434 263.5h1M466 422.5h35M351 468.5h9M376 468.5h1M1341 236.5h1M1365 236.5h1M1387 236.5h1M1344 239.5h2M1363 239.5h1M1390 239.5h1M330 488.5h1M334 488.5h3M601 488.5h2M459 425.5h2M518 425.5h2M1138 224.5h20M1183 224.5h1M1203 224.5h1M1372 224.5h2M1377 224.5h1M274 365.5h1M1459 271.5h14M322 480.5h1M343 480.5h1M666 480.5h2M772 480.5h2M807 455.5h7M863 455.5h2M155 494.5h11M593 494.5h2M680 494.5h2M1251 179.5h6M755 507.5h1M903 405.5h2M138 515.5h1M198 515.5h4M748 515.5h2M318 477.5h1M368 477.5h1M623 477.5h2M631 477.5h2M645 477.5h2M776 477.5h2M1447 276.5h3M1452 276.5h1M1479 276.5h1M429 416.5h1M894 416.5h1M990 416.5h8M320 479.5h2M627 479.5h2M650 479.5h16M774 479.5h1M1158 223.5h2M1182 223.5h1M1374 223.5h1M1376 223.5h1M1112 226.5h2M1126 226.5h4M1185 226.5h1M1379 226.5h1M1348 242.5h2M1394 242.5h1M1352 245.5h2M1358 245.5h1M1397 245.5h1M177 499.5h1M551 499.5h1M567 499.5h3M690 499.5h12M323 481.5h1M668 481.5h2M771 481.5h1M1383 232.5h1M151 496.5h2M170 496.5h4M575 496.5h11M683 496.5h2M706 496.5h1M714 496.5h1M93 549.5h2M105 549.5h2M327 486.5h1M339 486.5h1M614 486.5h3M673 486.5h1M461 424.5h2M503 424.5h15M371 474.5h1M782 474.5h8M1227 197.5h10M317 476.5h1M369 476.5h1M633 476.5h2M642 476.5h3M778 476.5h1M1094 257.5h1M1426 257.5h2M301 456.5h1M396 456.5h1M806 456.5h1M814 456.5h12M862 456.5h1M174 497.5h2M573 497.5h2M685 497.5h2M704 497.5h2M394 458.5h1M828 458.5h2M860 458.5h1M328 487.5h2M337 487.5h2M603 487.5h11M767 487.5h1M1347 241.5h1M1392 241.5h2M436 430.5h14M95 550.5h10M1354 246.5h1M1356 246.5h2M1398 246.5h1M303 459.5h2M393 459.5h1M830 459.5h1M859 459.5h1M946 393.5h3M153 495.5h2M166 495.5h4M548 495.5h1M586 495.5h7M682 495.5h1M707 495.5h7M379 465.5h1M842 465.5h8M853 465.5h2M1160 222.5h2M1180 222.5h2M1375 222.5h1M1092 258.5h2M1428 258.5h2M134 520.5h1M738 520.5h4M931 396.5h7M963 385.5h1M1189 229.5h2M1199 229.5h1M1335 229.5h1M1381 229.5h1M1302 125.5h9M341 483.5h1M671 483.5h1M1343 238.5h1M1389 238.5h1M82 543.5h4M111 543.5h1M70 535.5h1M72 535.5h1M118 535.5h1M331 489.5h3M599 489.5h2M675 489.5h1M877 444.5h1M326 485.5h1M617 485.5h2M79 544.5h3M86 544.5h2M110 544.5h1M1091 259.5h1M1430 259.5h1M1169 215.5h2M1172 215.5h1M1209 215.5h1M455 427.5h2M522 427.5h1M316 475.5h1M365 475.5h1M370 475.5h1M635 475.5h7M779 475.5h3M1045 269.5h1M1439 269.5h1M450 429.5h3M1272 168.5h2M305 460.5h2M392 460.5h1M831 460.5h1M858 460.5h1M923 401.5h1M1098 253.5h1M1409 253.5h2M142 510.5h1M188 510.5h2M206 510.5h1M753 510.5h1M319 478.5h1M367 478.5h1M625 478.5h2M629 478.5h2M647 478.5h3M775 478.5h1M307 461.5h1M386 461.5h6M832 461.5h2M905 404.5h2M910 404.5h8M1213 212.5h2M1279 161.5h1M308 462.5h1M383 462.5h3M834 462.5h1M139 514.5h1M195 514.5h3M202 514.5h2M750 514.5h1M1097 254.5h1M1411 254.5h3M176 498.5h1M213 498.5h1M550 498.5h1M570 498.5h3M687 498.5h3M702 498.5h2M597 491.5h1M677 491.5h1M362 471.5h1M796 471.5h2M1096 255.5h1M1414 255.5h4M1405 251.5h2M419 414.5h1M896 414.5h1M983 414.5h3M1000 414.5h2M309 463.5h1M382 463.5h1M835 463.5h3M856 463.5h1M891 420.5h1M1164 219.5h1M1176 219.5h2M929 397.5h2M147 503.5h1M182 503.5h1M558 503.5h3M1457 272.5h2M1473 272.5h2M463 423.5h3M501 423.5h2M889 423.5h1M1263 174.5h2M942 394.5h4M68 536.5h2M73 536.5h1M117 536.5h1M63 542.5h1M112 542.5h1M400 451.5h1M870 451.5h1M266 371.5h1M377 467.5h1M1438 268.5h1M1339 234.5h1M1385 234.5h1M178 500.5h1M552 500.5h2M565 500.5h2M759 500.5h1M1340 235.5h1M1386 235.5h1M1355 247.5h1M1399 247.5h1M180 502.5h2M555 502.5h3M561 502.5h2M595 493.5h1M679 493.5h1M763 493.5h1M1194 231.5h3M907 403.5h3M918 403.5h3M619 484.5h1M769 484.5h1M422 411.5h1M424 411.5h2M899 411.5h1M979 411.5h1M1004 411.5h1M1445 275.5h2M1453 275.5h1M1478 275.5h1M421 412.5h1M426 412.5h1M898 412.5h1M980 412.5h2M1003 412.5h1M126 528.5h1M865 454.5h2M955 388.5h1M965 388.5h1M1350 243.5h1M1360 243.5h1M1395 243.5h1M924 400.5h2M1099 252.5h1M1407 252.5h2M123 531.5h1M1219 205.5h1M1351 244.5h1M1359 244.5h1M1396 244.5h1M64 541.5h1M77 541.5h1M873 448.5h1M1049 264.5h1M1062 264.5h4M1435 264.5h1M130 525.5h1M1051 262.5h3M1082 262.5h4M1433 262.5h1M1225 198.5h2M191 512.5h2M598 490.5h1M676 490.5h1M765 490.5h1M1342 237.5h1M1388 237.5h1M1346 240.5h1M1362 240.5h1M1391 240.5h1M958 384.5h1M961 384.5h2M348 472.5h1M363 472.5h1M794 472.5h2M895 415.5h1M986 415.5h4M998 415.5h2M1166 217.5h1M1174 217.5h1M1207 217.5h1M1191 230.5h3M1197 230.5h2M1336 230.5h1M1186 227.5h1M1260 176.5h2M735 521.5h3M1450 277.5h2M1442 273.5h1M1455 273.5h2M1475 273.5h1M399 452.5h1M868 452.5h2M423 410.5h1M978 410.5h1M1163 220.5h1M1178 220.5h1M1443 274.5h2M1454 274.5h1M1476 274.5h2M1221 202.5h1M1262 175.5h1M67 537.5h1M74 537.5h1M116 537.5h1M1171 214.5h1M1210 214.5h1M453 428.5h2M1270 170.5h1M271 366.5h3M952 390.5h2M921 402.5h2M1215 211.5h1M874 447.5h1M131 524.5h1M61 545.5h1M88 545.5h1M959 383.5h2M954 389.5h1M746 517.5h1M378 466.5h1M850 466.5h3M1276 165.5h1M1338 233.5h1M1384 233.5h1M1299 126.5h3M401 450.5h1M871 450.5h1M1402 249.5h1M1259 177.5h1M1089 260.5h2M1431 260.5h1M1167 216.5h2M1173 216.5h1M1208 216.5h1M420 413.5h1M427 413.5h1M897 413.5h1M982 413.5h1M1002 413.5h1M398 453.5h1M867 453.5h1M1162 221.5h1M1179 221.5h1M1247 181.5h2M124 530.5h1M1243 187.5h1M66 538.5h1M75 538.5h1M115 538.5h1M1187 228.5h2M1200 228.5h1M1249 180.5h2M1047 266.5h1M1268 171.5h2M1281 158.5h1M1237 196.5h2M135 519.5h1M742 519.5h2M938 395.5h4M901 408.5h1M976 408.5h1M1006 408.5h1M1400 248.5h2M596 492.5h1M678 492.5h1M733 522.5h2M183 504.5h1M140 513.5h1M193 513.5h2M204 513.5h1M751 513.5h1M892 419.5h1M1165 218.5h1M1175 218.5h1M1086 261.5h3M1432 261.5h1M241 435.5h1M361 470.5h1M374 470.5h1M798 470.5h1M975 407.5h1M270 367.5h1M875 446.5h1M402 449.5h1M872 449.5h1M90 547.5h1M108 547.5h1M1223 199.5h2M143 509.5h1M187 509.5h1M1403 250.5h2M747 516.5h1M89 546.5h1M71 534.5h1M119 534.5h1M310 464.5h1M380 464.5h2M838 464.5h4M855 464.5h1M1274 167.5h1M127 527.5h1M350 469.5h1M360 469.5h1M375 469.5h1M347 473.5h1M372 473.5h1M790 473.5h4M457 426.5h2M520 426.5h2M887 426.5h1M1048 265.5h1M1436 265.5h1M120 533.5h2M1267 172.5h1M269 368.5h1M949 392.5h2M136 518.5h1M744 518.5h2M1211 213.5h2M1275 166.5h1M926 399.5h1M1298 127.5h1M878 443.5h1M1278 162.5h1M927 398.5h2M1257 178.5h2M114 539.5h1M263 375.5h1M1245 184.5h1M190 511.5h1M324 482.5h1M670 482.5h1M128 526.5h2M59 548.5h1M91 548.5h2M107 548.5h1M125 529.5h1M186 508.5h1M1296 128.5h2M264 374.5h1M239 438.5h1M977 409.5h1M122 532.5h1M267 370.5h1M145 506.5h1M1217 208.5h1M876 445.5h1M956 387.5h1M1271 169.5h1M1265 173.5h2M951 391.5h1M268 369.5h1M184 505.5h1" fill="none" stroke="#000" stroke-width="1"/>
<rect x="3" y="527" width="1" height="13" fill="#000"/>
<rect x="3" y="528" width="2" height="10" fill="#000"/>
<rect x="3" y="529" width="1" height="8" fill="#fff"/>
<rect x="7" y="525" width="1" height="10" fill="#000"/>
<rect x="6" y="526" width="3" height="9" fill="#000"/>
<rect x="7" y="527" width="1" height="7" fill="#fff"/>
<rect x="11" y="514" width="1" height="15" fill="#000"/>
<rect x="10" y="516" width="3" height="12" fill="#000"/>
<rect x="11" y="517" width="1" height="10" fill="#fff"/>
<rect x="15" y="509" width="1" height="21" fill="#000"/>
<rect x="14" y="516" width="3" height="4" fill="#000"/>
<rect x="19" y="511" width="1" height="11" fill="#000"/>
<rect x="18" y="514" width="3" height="6" fill="#000"/>
<rect x="19" y="515" width="1" height="4" fill="#fff"/>
<rect x="23" y="509" width="1" height="14" fill="#000"/>
<rect x="22" y="514" width="3" height="1" fill="#000"/>
<rect x="27" y="512" width="1" height="22" fill="#000"/>
<rect x="26" y="514" width="3" height="9" fill="#000"/>
<rect x="31" y="516" width="1" height="14" fill="#000"/>
<rect x="30" y="522" width="3" height="1" fill="#000"/>
<rect x="35" y="510" width="1" height="14" fill="#000"/>
<rect x="34" y="514" width="3" height="9" fill="#000"/>
<rect x="35" y="515" width="1" height="7" fill="#fff"/>
<rect x="39" y="505" width="1" height="15" fill="#000"/>
<rect x="38" y="506" width="3" height="9" fill="#000"/>
<rect x="39" y="507" width="1" height="7" fill="#fff"/>
<rect x="43" y="505" width="1" height="9" fill="#000"/>
<rect x="42" y="506" width="3" height="6" fill="#000"/>
<rect x="47" y="508" width="1" height="11" fill="#000"/>
<rect x="46" y="509" width="3" height="2" fill="#000"/>
<rect x="51" y="502" width="1" height="9" fill="#000"/>
<rect x="50" y="505" width="3" height="6" fill="#000"/>
<rect x="51" y="506" width="1" height="4" fill="#fff"/>
<rect x="55" y="504" width="1" height="12" fill="#000"/>
<rect x="54" y="505" width="3" height="9" fill="#000"/>
<rect x="59" y="508" width="1" height="13" fill="#000"/>
<rect x="58" y="510" width="3" height="3" fill="#000"/>
<rect x="63" y="506" width="1" height="9" fill="#000"/>
<rect x="62" y="507" width="3" height="5" fill="#000"/>
<rect x="63" y="508" width="1" height="3" fill="#fff"/>
<rect x="67" y="503" width="1" height="8" fill="#000"/>
<rect x="66" y="503" width="3" height="6" fill="#000"/>
<rect x="67" y="504" width="1" height="4" fill="#fff"/>
<rect x="71" y="497" width="1" height="10" fill="#000"/>
<rect x="70" y="504" width="3" height="1" fill="#000"/>
<rect x="75" y="471" width="1" height="36" fill="#000"/>
<rect x="74" y="471" width="3" height="34" fill="#000"/>
<rect x="75" y="472" width="1" height="32" fill="#fff"/>
<rect x="79" y="446" width="1" height="35" fill="#000"/>
<rect x="78" y="449" width="3" height="24" fill="#000"/>
<rect x="79" y="450" width="1" height="22" fill="#fff"/>
<rect x="83" y="441" width="1" height="48" fill="#000"/>
<rect x="82" y="449" width="3" height="21" fill="#000"/>
<rect x="87" y="450" width="1" height="25" fill="#000"/>
<rect x="86" y="454" width="3" height="16" fill="#000"/>
<rect x="87" y="455" width="1" height="14" fill="#fff"/>
<rect x="91" y="428" width="1" height="30" fill="#000"/>
<rect x="90" y="435" width="3" height="20" fill="#000"/>
<rect x="91" y="436" width="1" height="18" fill="#fff"/>
<rect x="95" y="417" width="1" height="22" fill="#000"/>
<rect x="94" y="428" width="3" height="8" fill="#000"/>
<rect x="95" y="429" width="1" height="6" fill="#fff"/>
<rect x="99" y="421" width="1" height="20" fill="#000"/>
<rect x="98" y="428" width="3" height="5" fill="#000"/>
<rect x="103" y="428" width="1" height="31" fill="#000"/>
<rect x="102" y="432" width="3" height="19" fill="#000"/>
<rect x="107" y="434" width="1" height="27" fill="#000"/>
<rect x="106" y="438" width="3" height="13" fill="#000"/>
<rect x="107" y="439" width="1" height="11" fill="#fff"/>
<rect x="111" y="437" width="1" height="22" fill="#000"/>
<rect x="110" y="438" width="3" height="8" fill="#000"/>
<rect x="115" y="437" width="1" height="15" fill="#000"/>
<rect x="114" y="444" width="3" height="7" fill="#000"/>
<rect x="119" y="440" width="1" height="57" fill="#000"/>
<rect x="118" y="449" width="3" height="33" fill="#000"/>
<rect x="123" y="473" width="1" height="64" fill="#000"/>
<rect x="122" y="474" width="3" height="8" fill="#000"/>
<rect x="123" y="475" width="1" height="6" fill="#fff"/>
<rect x="127" y="460" width="1" height="29" fill="#000"/>
<rect x="126" y="473" width="3" height="9" fill="#000"/>
<rect x="131" y="466" width="1" height="19" fill="#000"/>
<rect x="130" y="480" width="3" height="3" fill="#000"/>
<rect x="135" y="450" width="1" height="32" fill="#000"/>
<rect x="134" y="451" width="3" height="30" fill="#000"/>
<rect x="135" y="452" width="1" height="28" fill="#fff"/>
<rect x="139" y="450" width="1" height="49" fill="#000"/>
<rect x="138" y="451" width="3" height="40" fill="#000"/>
<rect x="143" y="467" width="1" height="33" fill="#000"/>
<rect x="142" y="471" width="3" height="21" fill="#000"/>
<rect x="143" y="472" width="1" height="19" fill="#fff"/>
<rect x="147" y="463" width="1" height="18" fill="#000"/>
<rect x="146" y="472" width="3" height="1" fill="#000"/>
<rect x="151" y="450" width="1" height="31" fill="#000"/>
<rect x="150" y="451" width="3" height="22" fill="#000"/>
<rect x="151" y="452" width="1" height="20" fill="#fff"/>
<rect x="155" y="426" width="1" height="28" fill="#000"/>
<rect x="154" y="435" width="3" height="18" fill="#000"/>
<rect x="155" y="436" width="1" height="16" fill="#fff"/>
<rect x="159" y="423" width="1" height="21" fill="#000"/>
<rect x="158" y="433" width="3" height="2" fill="#000"/>
<rect x="163" y="400" width="1" height="38" fill="#000"/>
<rect x="162" y="413" width="3" height="21" fill="#000"/>
<rect x="163" y="414" width="1" height="19" fill="#fff"/>
<rect x="167" y="409" width="1" height="30" fill="#000"/>
<rect x="166" y="413" width="3" height="19" fill="#000"/>
<rect x="171" y="409" width="1" height="26" fill="#000"/>
<rect x="170" y="421" width="3" height="11" fill="#000"/>
<rect x="171" y="422" width="1" height="9" fill="#fff"/>
<rect x="175" y="411" width="1" height="20" fill="#000"/>
<rect x="174" y="414" width="3" height="7" fill="#000"/>
<rect x="175" y="415" width="1" height="5" fill="#fff"/>
<rect x="179" y="393" width="1" height="34" fill="#000"/>
<rect x="178" y="399" width="3" height="16" fill="#000"/>
<rect x="179" y="400" width="1" height="14" fill="#fff"/>
<rect x="183" y="374" width="1" height="30" fill="#000"/>
<rect x="182" y="382" width="3" height="19" fill="#000"/>
<rect x="183" y="383" width="1" height="17" fill="#fff"/>
<rect x="187" y="368" width="1" height="23" fill="#000"/>
<rect x="186" y="373" width="3" height="10" fill="#000"/>
<rect x="187" y="374" width="1" height="8" fill="#fff"/>
<rect x="191" y="371" width="1" height="24" fill="#000"/>
<rect x="190" y="373" width="3" height="1" fill="#000"/>
<rect x="195" y="356" width="1" height="28" fill="#000"/>
<rect x="194" y="361" width="3" height="14" fill="#000"/>
<rect x="195" y="362" width="1" height="12" fill="#fff"/>
<rect x="199" y="335" width="1" height="30" fill="#000"/>
<rect x="198" y="336" width="3" height="27" fill="#000"/>
<rect x="199" y="337" width="1" height="25" fill="#fff"/>
<rect x="203" y="326" width="1" height="67" fill="#000"/>
<rect x="202" y="337" width="3" height="1" fill="#000"/>
<rect x="207" y="332" width="1" height="37" fill="#000"/>
<rect x="206" y="336" width="3" height="18" fill="#000"/>
<rect x="211" y="348" width="1" height="42" fill="#000"/>
<rect x="210" y="353" width="3" height="14" fill="#000"/>
<rect x="215" y="342" width="1" height="32" fill="#000"/>
<rect x="214" y="342" width="3" height="25" fill="#000"/>
<rect x="215" y="343" width="1" height="23" fill="#fff"/>
<rect x="219" y="302" width="1" height="43" fill="#000"/>
<rect x="218" y="310" width="3" height="33" fill="#000"/>
<rect x="219" y="311" width="1" height="31" fill="#fff"/>
<rect x="223" y="298" width="1" height="39" fill="#000"/>
<rect x="222" y="310" width="3" height="7" fill="#000"/>
<rect x="227" y="313" width="1" height="40" fill="#000"/>
<rect x="226" y="315" width="3" height="19" fill="#000"/>
<rect x="231" y="316" width="1" height="22" fill="#000"/>
<rect x="230" y="328" width="3" height="7" fill="#000"/>
<rect x="231" y="329" width="1" height="5" fill="#fff"/>
<rect x="235" y="323" width="1" height="25" fill="#000"/>
<rect x="234" y="329" width="3" height="17" fill="#000"/>
<rect x="239" y="319" width="1" height="36" fill="#000"/>
<rect x="238" y="326" width="3" height="19" fill="#000"/>
<rect x="239" y="327" width="1" height="17" fill="#fff"/>
<rect x="243" y="311" width="1" height="21" fill="#000"/>
<rect x="242" y="314" width="3" height="14" fill="#000"/>
<rect x="243" y="315" width="1" height="12" fill="#fff"/>
<rect x="247" y="309" width="1" height="26" fill="#000"/>
<rect x="246" y="314" width="3" height="12" fill="#000"/>
<rect x="251" y="316" width="1" height="16" fill="#000"/>
<rect x="250" y="320" width="3" height="6" fill="#000"/>
<rect x="251" y="321" width="1" height="4" fill="#fff"/>
<rect x="255" y="309" width="1" height="24" fill="#000"/>
<rect x="254" y="312" width="3" height="8" fill="#000"/>
<rect x="255" y="313" width="1" height="6" fill="#fff"/>
<rect x="259" y="312" width="1" height="20" fill="#000"/>
<rect x="258" y="312" width="3" height="13" fill="#000"/>
<rect x="263" y="313" width="1" height="13" fill="#000"/>
<rect x="262" y="320" width="3" height="5" fill="#000"/>
<rect x="263" y="321" width="1" height="3" fill="#fff"/>
<rect x="267" y="317" width="1" height="42" fill="#000"/>
<rect x="266" y="319" width="3" height="16" fill="#000"/>
<rect x="271" y="333" width="1" height="49" fill="#000"/>
<rect x="270" y="334" width="3" height="23" fill="#000"/>
<rect x="275" y="352" width="1" height="66" fill="#000"/>
<rect x="274" y="356" width="3" height="11" fill="#000"/>
<rect x="279" y="348" width="1" height="42" fill="#000"/>
<rect x="278" y="365" width="3" height="15" fill="#000"/>
<rect x="283" y="375" width="1" height="70" fill="#000"/>
<rect x="282" y="378" width="3" height="41" fill="#000"/>
<rect x="287" y="400" width="1" height="61" fill="#000"/>
<rect x="286" y="403" width="3" height="17" fill="#000"/>
<rect x="287" y="404" width="1" height="15" fill="#fff"/>
<rect x="291" y="393" width="1" height="63" fill="#000"/>
<rect x="290" y="403" width="3" height="52" fill="#000"/>
<rect x="295" y="436" width="1" height="59" fill="#000"/>
<rect x="294" y="453" width="3" height="1" fill="#000"/>
<rect x="299" y="424" width="1" height="56" fill="#000"/>
<rect x="298" y="432" width="3" height="22" fill="#000"/>
<rect x="299" y="433" width="1" height="20" fill="#fff"/>
<rect x="303" y="404" width="1" height="36" fill="#000"/>
<rect x="302" y="428" width="3" height="6" fill="#000"/>
<rect x="303" y="429" width="1" height="4" fill="#fff"/>
<rect x="307" y="400" width="1" height="39" fill="#000"/>
<rect x="306" y="400" width="3" height="29" fill="#000"/>
<rect x="307" y="401" width="1" height="27" fill="#fff"/>
<rect x="311" y="389" width="1" height="19" fill="#000"/>
<rect x="310" y="400" width="3" height="1" fill="#000"/>
<rect x="315" y="396" width="1" height="51" fill="#000"/>
<rect x="314" y="400" width="3" height="45" fill="#000"/>
<rect x="319" y="411" width="1" height="47" fill="#000"/>
<rect x="318" y="415" width="3" height="30" fill="#000"/>
<rect x="319" y="416" width="1" height="28" fill="#fff"/>
<rect x="323" y="407" width="1" height="32" fill="#000"/>
<rect x="322" y="415" width="3" height="6" fill="#000"/>
<rect x="327" y="415" width="1" height="46" fill="#000"/>
<rect x="326" y="420" width="3" height="29" fill="#000"/>
<rect x="331" y="427" width="1" height="31" fill="#000"/>
<rect x="330" y="444" width="3" height="5" fill="#000"/>
<rect x="331" y="445" width="1" height="3" fill="#fff"/>
<rect x="335" y="413" width="1" height="34" fill="#000"/>
<rect x="334" y="428" width="3" height="17" fill="#000"/>
<rect x="335" y="429" width="1" height="15" fill="#fff"/>
<rect x="339" y="412" width="1" height="21" fill="#000"/>
<rect x="338" y="424" width="3" height="5" fill="#000"/>
<rect x="339" y="425" width="1" height="3" fill="#fff"/>
<rect x="343" y="413" width="1" height="18" fill="#000"/>
<rect x="342" y="420" width="3" height="5" fill="#000"/>
<rect x="343" y="421" width="1" height="3" fill="#fff"/>
<rect x="347" y="375" width="1" height="47" fill="#000"/>
<rect x="346" y="378" width="3" height="43" fill="#000"/>
<rect x="347" y="379" width="1" height="41" fill="#fff"/>
<rect x="351" y="364" width="1" height="21" fill="#000"/>
<rect x="350" y="375" width="3" height="4" fill="#000"/>
<rect x="351" y="376" width="1" height="2" fill="#fff"/>
<rect x="355" y="369" width="1" height="19" fill="#000"/>
<rect x="354" y="374" width="3" height="3" fill="#000"/>
<rect x="355" y="375" width="1" height="1" fill="#fff"/>
<rect x="359" y="352" width="1" height="25" fill="#000"/>
<rect x="358" y="366" width="3" height="9" fill="#000"/>
<rect x="359" y="367" width="1" height="7" fill="#fff"/>
<rect x="363" y="348" width="1" height="23" fill="#000"/>
<rect x="362" y="348" width="3" height="19" fill="#000"/>
<rect x="363" y="349" width="1" height="17" fill="#fff"/>
<rect x="367" y="331" width="1" height="20" fill="#000"/>
<rect x="366" y="343" width="3" height="7" fill="#000"/>
<rect x="367" y="344" width="1" height="5" fill="#fff"/>
<rect x="371" y="338" width="1" height="25" fill="#000"/>
<rect x="370" y="343" width="3" height="12" fill="#000"/>
<rect x="375" y="341" width="1" height="19" fill="#000"/>
<rect x="374" y="347" width="3" height="8" fill="#000"/>
<rect x="375" y="348" width="1" height="6" fill="#fff"/>
<rect x="379" y="341" width="1" height="30" fill="#000"/>
<rect x="378" y="347" width="3" height="24" fill="#000"/>
<rect x="383" y="354" width="1" height="21" fill="#000"/>
<rect x="382" y="355" width="3" height="16" fill="#000"/>
<rect x="383" y="356" width="1" height="14" fill="#fff"/>
<rect x="387" y="353" width="1" height="28" fill="#000"/>
<rect x="386" y="354" width="3" height="18" fill="#000"/>
<rect x="391" y="370" width="1" height="58" fill="#000"/>
<rect x="390" y="371" width="3" height="30" fill="#000"/>
<rect x="395" y="391" width="1" height="29" fill="#000"/>
<rect x="394" y="394" width="3" height="7" fill="#000"/>
<rect x="395" y="395" width="1" height="5" fill="#fff"/>
<rect x="399" y="371" width="1" height="25" fill="#000"/>
<rect x="398" y="382" width="3" height="13" fill="#000"/>
<rect x="399" y="383" width="1" height="11" fill="#fff"/>
<rect x="403" y="378" width="1" height="30" fill="#000"/>
<rect x="402" y="382" width="3" height="21" fill="#000"/>
<rect x="407" y="371" width="1" height="32" fill="#000"/>
<rect x="406" y="376" width="3" height="26" fill="#000"/>
<rect x="407" y="377" width="1" height="24" fill="#fff"/>
<rect x="411" y="366" width="1" height="21" fill="#000"/>
<rect x="410" y="376" width="3" height="5" fill="#000"/>
<rect x="415" y="370" width="1" height="19" fill="#000"/>
<rect x="414" y="380" width="3" height="5" fill="#000"/>
<rect x="419" y="379" width="1" height="26" fill="#000"/>
<rect x="418" y="384" width="3" height="17" fill="#000"/>
<rect x="423" y="387" width="1" height="24" fill="#000"/>
<rect x="422" y="387" width="3" height="14" fill="#000"/>
<rect x="423" y="388" width="1" height="12" fill="#fff"/>
<rect x="427" y="386" width="1" height="23" fill="#000"/>
<rect x="426" y="387" width="3" height="21" fill="#000"/>
<rect x="431" y="403" width="1" height="30" fill="#000"/>
<rect x="430" y="405" width="3" height="26" fill="#000"/>
<rect x="435" y="407" width="1" height="28" fill="#000"/>
<rect x="434" y="418" width="3" height="13" fill="#000"/>
<rect x="435" y="419" width="1" height="11" fill="#fff"/>
<rect x="439" y="397" width="1" height="24" fill="#000"/>
<rect x="438" y="402" width="3" height="17" fill="#000"/>
<rect x="439" y="403" width="1" height="15" fill="#fff"/>
<rect x="443" y="384" width="1" height="24" fill="#000"/>
<rect x="442" y="390" width="3" height="14" fill="#000"/>
<rect x="443" y="391" width="1" height="12" fill="#fff"/>
<rect x="447" y="388" width="1" height="20" fill="#000"/>
<rect x="446" y="390" width="3" height="8" fill="#000"/>
<rect x="451" y="394" width="1" height="26" fill="#000"/>
<rect x="450" y="397" width="3" height="15" fill="#000"/>
<rect x="455" y="388" width="1" height="28" fill="#000"/>
<rect x="454" y="389" width="3" height="22" fill="#000"/>
<rect x="455" y="390" width="1" height="20" fill="#fff"/>
<rect x="459" y="375" width="1" height="29" fill="#000"/>
<rect x="458" y="386" width="3" height="5" fill="#000"/>
<rect x="459" y="387" width="1" height="3" fill="#fff"/>
<rect x="463" y="383" width="1" height="27" fill="#000"/>
<rect x="462" y="386" width="3" height="19" fill="#000"/>
<rect x="467" y="392" width="1" height="16" fill="#000"/>
<rect x="466" y="395" width="3" height="10" fill="#000"/>
<rect x="467" y="396" width="1" height="8" fill="#fff"/>
<rect x="471" y="377" width="1" height="21" fill="#000"/>
<rect x="470" y="383" width="3" height="14" fill="#000"/>
<rect x="471" y="384" width="1" height="12" fill="#fff"/>
<rect x="475" y="381" width="1" height="16" fill="#000"/>
<rect x="474" y="383" width="3" height="13" fill="#000"/>
<rect x="479" y="373" width="1" height="24" fill="#000"/>
<rect x="478" y="382" width="3" height="14" fill="#000"/>
<rect x="479" y="383" width="1" height="12" fill="#fff"/>
<rect x="483" y="375" width="1" height="15" fill="#000"/>
<rect x="482" y="380" width="3" height="3" fill="#000"/>
<rect x="487" y="368" width="1" height="19" fill="#000"/>
<rect x="486" y="380" width="3" height="1" fill="#000"/>
<rect x="491" y="379" width="1" height="21" fill="#000"/>
<rect x="490" y="379" width="3" height="14" fill="#000"/>
<rect x="495" y="386" width="1" height="20" fill="#000"/>
<rect x="494" y="391" width="3" height="8" fill="#000"/>
<rect x="499" y="396" width="1" height="25" fill="#000"/>
<rect x="498" y="397" width="3" height="11" fill="#000"/>
<rect x="503" y="399" width="1" height="27" fill="#000"/>
<rect x="502" y="407" width="3" height="13" fill="#000"/>
<rect x="507" y="416" width="1" height="17" fill="#000"/>
<rect x="506" y="416" width="3" height="4" fill="#000"/>
<rect x="507" y="417" width="1" height="2" fill="#fff"/>
<rect x="511" y="412" width="1" height="32" fill="#000"/>
<rect x="510" y="417" width="3" height="1" fill="#000"/>
<rect x="515" y="410" width="1" height="14" fill="#000"/>
<rect x="514" y="417" width="3" height="1" fill="#000"/>
<rect x="519" y="404" width="1" height="18" fill="#000"/>
<rect x="518" y="417" width="3" height="3" fill="#000"/>
<rect x="523" y="416" width="1" height="17" fill="#000"/>
<rect x="522" y="417" width="3" height="7" fill="#000"/>
<rect x="527" y="415" width="1" height="43" fill="#000"/>
<rect x="526" y="422" width="3" height="30" fill="#000"/>
<rect x="531" y="447" width="1" height="32" fill="#000"/>
<rect x="530" y="450" width="3" height="12" fill="#000"/>
<rect x="535" y="459" width="1" height="25" fill="#000"/>
<rect x="534" y="460" width="3" height="9" fill="#000"/>
<rect x="539" y="453" width="1" height="27" fill="#000"/>
<rect x="538" y="466" width="3" height="13" fill="#000"/>
<rect x="543" y="473" width="1" height="47" fill="#000"/>
<rect x="542" y="477" width="3" height="22" fill="#000"/>
<rect x="547" y="466" width="1" height="38" fill="#000"/>
<rect x="546" y="468" width="3" height="31" fill="#000"/>
<rect x="547" y="469" width="1" height="29" fill="#fff"/>
<rect x="551" y="464" width="1" height="29" fill="#000"/>
<rect x="550" y="468" width="3" height="9" fill="#000"/>
<rect x="555" y="459" width="1" height="24" fill="#000"/>
<rect x="554" y="462" width="3" height="15" fill="#000"/>
<rect x="555" y="463" width="1" height="13" fill="#fff"/>
<rect x="559" y="452" width="1" height="15" fill="#000"/>
<rect x="558" y="460" width="3" height="4" fill="#000"/>
<rect x="559" y="461" width="1" height="2" fill="#fff"/>
<rect x="563" y="434" width="1" height="29" fill="#000"/>
<rect x="562" y="443" width="3" height="19" fill="#000"/>
<rect x="563" y="444" width="1" height="17" fill="#fff"/>
<rect x="567" y="438" width="1" height="25" fill="#000"/>
<rect x="566" y="443" width="3" height="11" fill="#000"/>
<rect x="571" y="441" width="1" height="25" fill="#000"/>
<rect x="570" y="442" width="3" height="13" fill="#000"/>
<rect x="571" y="443" width="1" height="11" fill="#fff"/>
<rect x="575" y="440" width="1" height="20" fill="#000"/>
<rect x="574" y="442" width="3" height="17" fill="#000"/>
<rect x="579" y="456" width="1" height="21" fill="#000"/>
<rect x="578" y="457" width="3" height="12" fill="#000"/>
<rect x="583" y="460" width="1" height="13" fill="#000"/>
<rect x="582" y="461" width="3" height="8" fill="#000"/>
<rect x="583" y="462" width="1" height="6" fill="#fff"/>
<rect x="587" y="456" width="1" height="12" fill="#000"/>
<rect x="586" y="459" width="3" height="1" fill="#000"/>
<rect x="591" y="457" width="1" height="16" fill="#000"/>
<rect x="590" y="459" width="3" height="10" fill="#000"/>
<rect x="595" y="448" width="1" height="22" fill="#000"/>
<rect x="594" y="450" width="3" height="18" fill="#000"/>
<rect x="595" y="451" width="1" height="16" fill="#fff"/>
<rect x="599" y="447" width="1" height="11" fill="#000"/>
<rect x="598" y="450" width="3" height="5" fill="#000"/>
<rect x="603" y="449" width="1" height="15" fill="#000"/>
<rect x="602" y="454" width="3" height="8" fill="#000"/>
<rect x="607" y="458" width="1" height="16" fill="#000"/>
<rect x="606" y="461" width="3" height="7" fill="#000"/>
<rect x="611" y="466" width="1" height="17" fill="#000"/>
<rect x="610" y="467" width="3" height="1" fill="#000"/>
<rect x="615" y="449" width="1" height="23" fill="#000"/>
<rect x="614" y="450" width="3" height="18" fill="#000"/>
<rect x="615" y="451" width="1" height="16" fill="#fff"/>
<rect x="619" y="435" width="1" height="21" fill="#000"/>
<rect x="618" y="443" width="3" height="8" fill="#000"/>
<rect x="619" y="444" width="1" height="6" fill="#fff"/>
<rect x="623" y="438" width="1" height="13" fill="#000"/>
<rect x="622" y="442" width="3" height="8" fill="#000"/>
<rect x="627" y="420" width="1" height="34" fill="#000"/>
<rect x="626" y="422" width="3" height="27" fill="#000"/>
<rect x="627" y="423" width="1" height="25" fill="#fff"/>
<rect x="631" y="417" width="1" height="21" fill="#000"/>
<rect x="630" y="422" width="3" height="14" fill="#000"/>
<rect x="635" y="431" width="1" height="33" fill="#000"/>
<rect x="634" y="435" width="3" height="19" fill="#000"/>
<rect x="639" y="451" width="1" height="20" fill="#000"/>
<rect x="638" y="453" width="3" height="1" fill="#000"/>
<rect x="643" y="452" width="1" height="24" fill="#000"/>
<rect x="642" y="452" width="3" height="13" fill="#000"/>
<rect x="647" y="463" width="1" height="18" fill="#000"/>
<rect x="646" y="463" width="3" height="7" fill="#000"/>
<rect x="651" y="456" width="1" height="24" fill="#000"/>
<rect x="650" y="469" width="3" height="1" fill="#000"/>
<rect x="655" y="460" width="1" height="26" fill="#000"/>
<rect x="654" y="461" width="3" height="10" fill="#000"/>
<rect x="655" y="462" width="1" height="8" fill="#fff"/>
<rect x="659" y="456" width="1" height="12" fill="#000"/>
<rect x="658" y="461" width="3" height="6" fill="#000"/>
<rect x="663" y="449" width="1" height="19" fill="#000"/>
<rect x="662" y="463" width="3" height="4" fill="#000"/>
<rect x="663" y="464" width="1" height="2" fill="#fff"/>
<rect x="667" y="458" width="1" height="18" fill="#000"/>
<rect x="666" y="462" width="3" height="12" fill="#000"/>
<rect x="671" y="466" width="1" height="19" fill="#000"/>
<rect x="670" y="472" width="3" height="7" fill="#000"/>
<rect x="675" y="470" width="1" height="26" fill="#000"/>
<rect x="674" y="477" width="3" height="18" fill="#000"/>
<rect x="679" y="481" width="1" height="32" fill="#000"/>
<rect x="678" y="489" width="3" height="6" fill="#000"/>
<rect x="679" y="490" width="1" height="4" fill="#fff"/>
<rect x="683" y="471" width="1" height="37" fill="#000"/>
<rect x="682" y="482" width="3" height="9" fill="#000"/>
<rect x="683" y="483" width="1" height="7" fill="#fff"/>
<rect x="687" y="480" width="1" height="21" fill="#000"/>
<rect x="686" y="481" width="3" height="3" fill="#000"/>
<rect x="691" y="467" width="1" height="19" fill="#000"/>
<rect x="690" y="468" width="3" height="17" fill="#000"/>
<rect x="691" y="469" width="1" height="15" fill="#fff"/>
<rect x="695" y="466" width="1" height="20" fill="#000"/>
<rect x="694" y="468" width="3" height="6" fill="#000"/>
<rect x="699" y="467" width="1" height="16" fill="#000"/>
<rect x="698" y="468" width="3" height="6" fill="#000"/>
<rect x="699" y="469" width="1" height="4" fill="#fff"/>
<rect x="703" y="456" width="1" height="17" fill="#000"/>
<rect x="702" y="459" width="3" height="10" fill="#000"/>
<rect x="703" y="460" width="1" height="8" fill="#fff"/>
<rect x="707" y="443" width="1" height="21" fill="#000"/>
<rect x="706" y="444" width="3" height="17" fill="#000"/>
<rect x="707" y="445" width="1" height="15" fill="#fff"/>
<rect x="711" y="425" width="1" height="23" fill="#000"/>
<rect x="710" y="432" width="3" height="13" fill="#000"/>
<rect x="711" y="433" width="1" height="11" fill="#fff"/>
<rect x="715" y="426" width="1" height="27" fill="#000"/>
<rect x="714" y="431" width="3" height="18" fill="#000"/>
<rect x="719" y="363" width="1" height="104" fill="#000"/>
<rect x="718" y="383" width="3" height="66" fill="#000"/>
<rect x="719" y="384" width="1" height="64" fill="#fff"/>
<rect x="723" y="355" width="1" height="53" fill="#000"/>
<rect x="722" y="360" width="3" height="25" fill="#000"/>
<rect x="723" y="361" width="1" height="23" fill="#fff"/>
<rect x="727" y="357" width="1" height="50" fill="#000"/>
<rect x="726" y="360" width="3" height="44" fill="#000"/>
<rect x="731" y="398" width="1" height="44" fill="#000"/>
<rect x="730" y="403" width="3" height="19" fill="#000"/>
<rect x="735" y="409" width="1" height="28" fill="#000"/>
<rect x="734" y="421" width="3" height="11" fill="#000"/>
<rect x="739" y="424" width="1" height="28" fill="#000"/>
<rect x="738" y="430" width="3" height="11" fill="#000"/>
<rect x="743" y="424" width="1" height="25" fill="#000"/>
<rect x="742" y="427" width="3" height="14" fill="#000"/>
<rect x="743" y="428" width="1" height="12" fill="#fff"/>
<rect x="747" y="425" width="1" height="17" fill="#000"/>
<rect x="746" y="428" width="3" height="1" fill="#000"/>
<rect x="751" y="423" width="1" height="18" fill="#000"/>
<rect x="750" y="427" width="3" height="1" fill="#000"/>
<rect x="755" y="420" width="1" height="14" fill="#000"/>
<rect x="754" y="420" width="3" height="9" fill="#000"/>
<rect x="755" y="421" width="1" height="7" fill="#fff"/>
<rect x="759" y="419" width="1" height="16" fill="#000"/>
<rect x="758" y="420" width="3" height="10" fill="#000"/>
<rect x="763" y="427" width="1" height="11" fill="#000"/>
<rect x="762" y="428" width="3" height="9" fill="#000"/>
<rect x="767" y="434" width="1" height="12" fill="#000"/>
<rect x="766" y="435" width="3" height="10" fill="#000"/>
<rect x="771" y="428" width="1" height="19" fill="#000"/>
<rect x="770" y="437" width="3" height="8" fill="#000"/>
<rect x="771" y="438" width="1" height="6" fill="#fff"/>
<rect x="775" y="436" width="1" height="28" fill="#000"/>
<rect x="774" y="437" width="3" height="25" fill="#000"/>
<rect x="779" y="450" width="1" height="14" fill="#000"/>
<rect x="778" y="456" width="3" height="5" fill="#000"/>
<rect x="779" y="457" width="1" height="3" fill="#fff"/>
<rect x="783" y="440" width="1" height="21" fill="#000"/>
<rect x="782" y="441" width="3" height="16" fill="#000"/>
<rect x="783" y="442" width="1" height="14" fill="#fff"/>
<rect x="787" y="433" width="1" height="12" fill="#000"/>
<rect x="786" y="435" width="3" height="7" fill="#000"/>
<rect x="787" y="436" width="1" height="5" fill="#fff"/>
<rect x="791" y="420" width="1" height="26" fill="#000"/>
<rect x="790" y="426" width="3" height="10" fill="#000"/>
<rect x="791" y="427" width="1" height="8" fill="#fff"/>
<rect x="795" y="423" width="1" height="16" fill="#000"/>
<rect x="794" y="426" width="3" height="12" fill="#000"/>
<rect x="799" y="429" width="1" height="19" fill="#000"/>
<rect x="798" y="431" width="3" height="7" fill="#000"/>
<rect x="799" y="432" width="1" height="5" fill="#fff"/>
<rect x="803" y="431" width="1" height="9" fill="#000"/>
<rect x="802" y="432" width="3" height="6" fill="#000"/>
<rect x="807" y="430" width="1" height="13" fill="#000"/>
<rect x="806" y="436" width="3" height="1" fill="#000"/>
<rect x="811" y="431" width="1" height="11" fill="#000"/>
<rect x="810" y="431" width="3" height="6" fill="#000"/>
<rect x="811" y="432" width="1" height="4" fill="#fff"/>
<rect x="815" y="404" width="1" height="29" fill="#000"/>
<rect x="814" y="410" width="3" height="23" fill="#000"/>
<rect x="815" y="411" width="1" height="21" fill="#fff"/>
<rect x="819" y="408" width="1" height="16" fill="#000"/>
<rect x="818" y="409" width="3" height="9" fill="#000"/>
<rect x="823" y="412" width="1" height="15" fill="#000"/>
<rect x="822" y="417" width="3" height="1" fill="#000"/>
<rect x="827" y="398" width="1" height="22" fill="#000"/>
<rect x="826" y="404" width="3" height="15" fill="#000"/>
<rect x="827" y="405" width="1" height="13" fill="#fff"/>
<rect x="831" y="393" width="1" height="18" fill="#000"/>
<rect x="830" y="401" width="3" height="4" fill="#000"/>
<rect x="831" y="402" width="1" height="2" fill="#fff"/>
<rect x="835" y="384" width="1" height="19" fill="#000"/>
<rect x="834" y="391" width="3" height="10" fill="#000"/>
<rect x="835" y="392" width="1" height="8" fill="#fff"/>
<rect x="839" y="384" width="1" height="23" fill="#000"/>
<rect x="838" y="390" width="3" height="11" fill="#000"/>
<rect x="843" y="386" width="1" height="20" fill="#000"/>
<rect x="842" y="389" width="3" height="12" fill="#000"/>
<rect x="843" y="390" width="1" height="10" fill="#fff"/>
<rect x="847" y="378" width="1" height="16" fill="#000"/>
<rect x="846" y="378" width="3" height="13" fill="#000"/>
<rect x="847" y="379" width="1" height="11" fill="#fff"/>
<rect x="851" y="374" width="1" height="14" fill="#000"/>
<rect x="850" y="376" width="3" height="4" fill="#000"/>
<rect x="851" y="377" width="1" height="2" fill="#fff"/>
<rect x="855" y="359" width="1" height="20" fill="#000"/>
<rect x="854" y="362" width="3" height="17" fill="#000"/>
<rect x="855" y="363" width="1" height="15" fill="#fff"/>
<rect x="859" y="363" width="1" height="14" fill="#000"/>
<rect x="858" y="364" width="3" height="10" fill="#000"/>
<rect x="863" y="353" width="1" height="34" fill="#000"/>
<rect x="862" y="373" width="3" height="1" fill="#000"/>
<rect x="867" y="366" width="1" height="17" fill="#000"/>
<rect x="866" y="373" width="3" height="1" fill="#000"/>
<rect x="871" y="369" width="1" height="29" fill="#000"/>
<rect x="870" y="372" width="3" height="13" fill="#000"/>
<rect x="875" y="368" width="1" height="18" fill="#000"/>
<rect x="874" y="370" width="3" height="15" fill="#000"/>
<rect x="875" y="371" width="1" height="13" fill="#fff"/>
<rect x="879" y="370" width="1" height="21" fill="#000"/>
<rect x="878" y="370" width="3" height="20" fill="#000"/>
<rect x="883" y="374" width="1" height="16" fill="#000"/>
<rect x="882" y="381" width="3" height="9" fill="#000"/>
<rect x="883" y="382" width="1" height="7" fill="#fff"/>
<rect x="887" y="368" width="1" height="15" fill="#000"/>
<rect x="886" y="378" width="3" height="5" fill="#000"/>
<rect x="887" y="379" width="1" height="3" fill="#fff"/>
<rect x="891" y="360" width="1" height="21" fill="#000"/>
<rect x="890" y="360" width="3" height="20" fill="#000"/>
<rect x="891" y="361" width="1" height="18" fill="#fff"/>
<rect x="895" y="360" width="1" height="14" fill="#000"/>
<rect x="894" y="360" width="3" height="9" fill="#000"/>
<rect x="899" y="366" width="1" height="14" fill="#000"/>
<rect x="898" y="368" width="3" height="1" fill="#000"/>
<rect x="903" y="341" width="1" height="32" fill="#000"/>
<rect x="902" y="352" width="3" height="18" fill="#000"/>
<rect x="903" y="353" width="1" height="16" fill="#fff"/>
<rect x="907" y="338" width="1" height="18" fill="#000"/>
<rect x="906" y="349" width="3" height="4" fill="#000"/>
<rect x="907" y="350" width="1" height="2" fill="#fff"/>
<rect x="911" y="333" width="1" height="18" fill="#000"/>
<rect x="910" y="334" width="3" height="16" fill="#000"/>
<rect x="911" y="335" width="1" height="14" fill="#fff"/>
<rect x="915" y="324" width="1" height="17" fill="#000"/>
<rect x="914" y="330" width="3" height="5" fill="#000"/>
<rect x="915" y="331" width="1" height="3" fill="#fff"/>
<rect x="919" y="316" width="1" height="16" fill="#000"/>
<rect x="918" y="328" width="3" height="3" fill="#000"/>
<rect x="919" y="329" width="1" height="1" fill="#fff"/>
<rect x="923" y="324" width="1" height="16" fill="#000"/>
<rect x="922" y="327" width="3" height="5" fill="#000"/>
<rect x="927" y="325" width="1" height="34" fill="#000"/>
<rect x="926" y="331" width="3" height="26" fill="#000"/>
<rect x="931" y="351" width="1" height="17" fill="#000"/>
<rect x="930" y="355" width="3" height="3" fill="#000"/>
<rect x="935" y="337" width="1" height="24" fill="#000"/>
<rect x="934" y="340" width="3" height="17" fill="#000"/>
<rect x="935" y="341" width="1" height="15" fill="#fff"/>
<rect x="939" y="337" width="1" height="23" fill="#000"/>
<rect x="938" y="340" width="3" height="16" fill="#000"/>
<rect x="943" y="353" width="1" height="25" fill="#000"/>
<rect x="942" y="355" width="3" height="14" fill="#000"/>
<rect x="947" y="354" width="1" height="18" fill="#000"/>
<rect x="946" y="356" width="3" height="13" fill="#000"/>
<rect x="947" y="357" width="1" height="11" fill="#fff"/>
<rect x="951" y="346" width="1" height="16" fill="#000"/>
<rect x="950" y="356" width="3" height="1" fill="#000"/>
<rect x="955" y="351" width="1" height="16" fill="#000"/>
<rect x="954" y="354" width="3" height="3" fill="#000"/>
<rect x="955" y="355" width="1" height="1" fill="#fff"/>
<rect x="959" y="342" width="1" height="15" fill="#000"/>
<rect x="958" y="349" width="3" height="6" fill="#000"/>
<rect x="959" y="350" width="1" height="4" fill="#fff"/>
<rect x="963" y="252" width="1" height="100" fill="#000"/>
<rect x="962" y="283" width="3" height="68" fill="#000"/>
<rect x="963" y="284" width="1" height="66" fill="#fff"/>
<rect x="967" y="260" width="1" height="32" fill="#000"/>
<rect x="966" y="280" width="3" height="4" fill="#000"/>
<rect x="967" y="281" width="1" height="2" fill="#fff"/>
<rect x="971" y="252" width="1" height="40" fill="#000"/>
<rect x="970" y="256" width="3" height="25" fill="#000"/>
<rect x="971" y="257" width="1" height="23" fill="#fff"/>
<rect x="975" y="208" width="1" height="49" fill="#000"/>
<rect x="974" y="230" width="3" height="27" fill="#000"/>
<rect x="975" y="231" width="1" height="25" fill="#fff"/>
<rect x="979" y="212" width="1" height="24" fill="#000"/>
<rect x="978" y="218" width="3" height="14" fill="#000"/>
<rect x="979" y="219" width="1" height="12" fill="#fff"/>
<rect x="983" y="196" width="1" height="38" fill="#000"/>
<rect x="982" y="218" width="3" height="9" fill="#000"/>
<rect x="987" y="219" width="1" height="33" fill="#000"/>
<rect x="986" y="225" width="3" height="4" fill="#000"/>
<rect x="991" y="215" width="1" height="19" fill="#000"/>
<rect x="990" y="224" width="3" height="5" fill="#000"/>
<rect x="991" y="225" width="1" height="3" fill="#fff"/>
<rect x="995" y="208" width="1" height="21" fill="#000"/>
<rect x="994" y="211" width="3" height="15" fill="#000"/>
<rect x="995" y="212" width="1" height="13" fill="#fff"/>
<rect x="999" y="211" width="1" height="22" fill="#000"/>
<rect x="998" y="211" width="3" height="18" fill="#000"/>
<rect x="1003" y="219" width="1" height="22" fill="#000"/>
<rect x="1002" y="229" width="3" height="3" fill="#000"/>
<rect x="1007" y="216" width="1" height="17" fill="#000"/>
<rect x="1006" y="222" width="3" height="10" fill="#000"/>
<rect x="1007" y="223" width="1" height="8" fill="#fff"/>
<rect x="1011" y="210" width="1" height="48" fill="#000"/>
<rect x="1010" y="222" width="3" height="18" fill="#000"/>
<rect x="1015" y="232" width="1" height="40" fill="#000"/>
<rect x="1014" y="238" width="3" height="13" fill="#000"/>
<rect x="1019" y="245" width="1" height="16" fill="#000"/>
<rect x="1018" y="248" width="3" height="1" fill="#000"/>
<rect x="1023" y="244" width="1" height="24" fill="#000"/>
<rect x="1022" y="249" width="3" height="16" fill="#000"/>
<rect x="1027" y="238" width="1" height="27" fill="#000"/>
<rect x="1026" y="256" width="3" height="9" fill="#000"/>
<rect x="1027" y="257" width="1" height="7" fill="#fff"/>
<rect x="1031" y="239" width="1" height="22" fill="#000"/>
<rect x="1030" y="241" width="3" height="16" fill="#000"/>
<rect x="1031" y="242" width="1" height="14" fill="#fff"/>
<rect x="1035" y="193" width="1" height="52" fill="#000"/>
<rect x="1034" y="208" width="3" height="35" fill="#000"/>
<rect x="1035" y="209" width="1" height="33" fill="#fff"/>
<rect x="1039" y="190" width="1" height="44" fill="#000"/>
<rect x="1038" y="208" width="3" height="4" fill="#000"/>
<rect x="1043" y="190" width="1" height="36" fill="#000"/>
<rect x="1042" y="210" width="3" height="10" fill="#000"/>
<rect x="1047" y="183" width="1" height="37" fill="#000"/>
<rect x="1046" y="192" width="3" height="28" fill="#000"/>
<rect x="1047" y="193" width="1" height="26" fill="#fff"/>
<rect x="1051" y="192" width="1" height="27" fill="#000"/>
<rect x="1050" y="192" width="3" height="22" fill="#000"/>
<rect x="1055" y="204" width="1" height="17" fill="#000"/>
<rect x="1054" y="210" width="3" height="4" fill="#000"/>
<rect x="1055" y="211" width="1" height="2" fill="#fff"/>
<rect x="1059" y="196" width="1" height="16" fill="#000"/>
<rect x="1058" y="201" width="3" height="10" fill="#000"/>
<rect x="1059" y="202" width="1" height="8" fill="#fff"/>
<rect x="1063" y="200" width="1" height="32" fill="#000"/>
<rect x="1062" y="203" width="3" height="1" fill="#000"/>
<rect x="1067" y="196" width="1" height="23" fill="#000"/>
<rect x="1066" y="201" width="3" height="4" fill="#000"/>
<rect x="1067" y="202" width="1" height="2" fill="#fff"/>
<rect x="1071" y="200" width="1" height="15" fill="#000"/>
<rect x="1070" y="201" width="3" height="6" fill="#000"/>
<rect x="1075" y="197" width="1" height="12" fill="#000"/>
<rect x="1074" y="200" width="3" height="6" fill="#000"/>
<rect x="1075" y="201" width="1" height="4" fill="#fff"/>
<rect x="1079" y="200" width="1" height="24" fill="#000"/>
<rect x="1078" y="200" width="3" height="14" fill="#000"/>
<rect x="1083" y="211" width="1" height="20" fill="#000"/>
<rect x="1082" y="212" width="3" height="5" fill="#000"/>
<rect x="1087" y="209" width="1" height="14" fill="#000"/>
<rect x="1086" y="216" width="3" height="4" fill="#000"/>
<rect x="1091" y="209" width="1" height="15" fill="#000"/>
<rect x="1090" y="214" width="3" height="5" fill="#000"/>
<rect x="1091" y="215" width="1" height="3" fill="#fff"/>
<rect x="1095" y="204" width="1" height="17" fill="#000"/>
<rect x="1094" y="209" width="3" height="7" fill="#000"/>
<rect x="1095" y="210" width="1" height="5" fill="#fff"/>
<rect x="1099" y="185" width="1" height="30" fill="#000"/>
<rect x="1098" y="185" width="3" height="25" fill="#000"/>
<rect x="1099" y="186" width="1" height="23" fill="#fff"/>
<rect x="1103" y="178" width="1" height="17" fill="#000"/>
<rect x="1102" y="182" width="3" height="5" fill="#000"/>
<rect x="1103" y="183" width="1" height="3" fill="#fff"/>
<rect x="1107" y="172" width="1" height="21" fill="#000"/>
<rect x="1106" y="181" width="3" height="8" fill="#000"/>
<rect x="1111" y="181" width="1" height="19" fill="#000"/>
<rect x="1110" y="187" width="3" height="4" fill="#000"/>
<rect x="1115" y="183" width="1" height="12" fill="#000"/>
<rect x="1114" y="187" width="3" height="4" fill="#000"/>
<rect x="1115" y="188" width="1" height="2" fill="#fff"/>
<rect x="1119" y="178" width="1" height="29" fill="#000"/>
<rect x="1118" y="186" width="3" height="15" fill="#000"/>
<rect x="1123" y="195" width="1" height="43" fill="#000"/>
<rect x="1122" y="199" width="3" height="24" fill="#000"/>
<rect x="1127" y="204" width="1" height="19" fill="#000"/>
<rect x="1126" y="209" width="3" height="14" fill="#000"/>
<rect x="1127" y="210" width="1" height="12" fill="#fff"/>
<rect x="1131" y="195" width="1" height="18" fill="#000"/>
<rect x="1130" y="200" width="3" height="10" fill="#000"/>
<rect x="1131" y="201" width="1" height="8" fill="#fff"/>
<rect x="1135" y="187" width="1" height="24" fill="#000"/>
<rect x="1134" y="192" width="3" height="9" fill="#000"/>
<rect x="1135" y="193" width="1" height="7" fill="#fff"/>
<rect x="1139" y="186" width="1" height="14" fill="#000"/>
<rect x="1138" y="190" width="3" height="9" fill="#000"/>
<rect x="1143" y="194" width="1" height="23" fill="#000"/>
<rect x="1142" y="195" width="3" height="4" fill="#000"/>
<rect x="1143" y="196" width="1" height="2" fill="#fff"/>
<rect x="1147" y="166" width="1" height="33" fill="#000"/>
<rect x="1146" y="182" width="3" height="15" fill="#000"/>
<rect x="1147" y="183" width="1" height="13" fill="#fff"/>
<rect x="1151" y="178" width="1" height="17" fill="#000"/>
<rect x="1150" y="178" width="3" height="5" fill="#000"/>
<rect x="1151" y="179" width="1" height="3" fill="#fff"/>
<rect x="1155" y="157" width="1" height="40" fill="#000"/>
<rect x="1154" y="178" width="3" height="9" fill="#000"/>
<rect x="1159" y="175" width="1" height="26" fill="#000"/>
<rect x="1158" y="185" width="3" height="13" fill="#000"/>
<rect x="1163" y="186" width="1" height="20" fill="#000"/>
<rect x="1162" y="191" width="3" height="7" fill="#000"/>
<rect x="1163" y="192" width="1" height="5" fill="#fff"/>
<rect x="1167" y="174" width="1" height="20" fill="#000"/>
<rect x="1166" y="179" width="3" height="14" fill="#000"/>
<rect x="1167" y="180" width="1" height="12" fill="#fff"/>
<rect x="1171" y="164" width="1" height="19" fill="#000"/>
<rect x="1170" y="171" width="3" height="10" fill="#000"/>
<rect x="1171" y="172" width="1" height="8" fill="#fff"/>
<rect x="1175" y="138" width="1" height="37" fill="#000"/>
<rect x="1174" y="142" width="3" height="31" fill="#000"/>
<rect x="1175" y="143" width="1" height="29" fill="#fff"/>
<rect x="1179" y="139" width="1" height="22" fill="#000"/>
<rect x="1178" y="142" width="3" height="9" fill="#000"/>
<rect x="1183" y="140" width="1" height="17" fill="#000"/>
<rect x="1182" y="144" width="3" height="5" fill="#000"/>
<rect x="1183" y="145" width="1" height="3" fill="#fff"/>
<rect x="1187" y="123" width="1" height="25" fill="#000"/>
<rect x="1186" y="127" width="3" height="19" fill="#000"/>
<rect x="1187" y="128" width="1" height="17" fill="#fff"/>
<rect x="1191" y="125" width="1" height="11" fill="#000"/>
<rect x="1190" y="128" width="3" height="5" fill="#000"/>
<rect x="1195" y="126" width="1" height="14" fill="#000"/>
<rect x="1194" y="131" width="3" height="1" fill="#000"/>
<rect x="1199" y="129" width="1" height="18" fill="#000"/>
<rect x="1198" y="130" width="3" height="10" fill="#000"/>
<rect x="1203" y="133" width="1" height="23" fill="#000"/>
<rect x="1202" y="137" width="3" height="1" fill="#000"/>
<rect x="1207" y="129" width="1" height="17" fill="#000"/>
<rect x="1206" y="137" width="3" height="1" fill="#000"/>
<rect x="1211" y="130" width="1" height="14" fill="#000"/>
<rect x="1210" y="133" width="3" height="6" fill="#000"/>
<rect x="1211" y="134" width="1" height="4" fill="#fff"/>
<rect x="1215" y="132" width="1" height="18" fill="#000"/>
<rect x="1214" y="133" width="3" height="14" fill="#000"/>
<rect x="1219" y="141" width="1" height="16" fill="#000"/>
<rect x="1218" y="142" width="3" height="5" fill="#000"/>
<rect x="1219" y="143" width="1" height="3" fill="#fff"/>
<rect x="1223" y="119" width="1" height="25" fill="#000"/>
<rect x="1222" y="123" width="3" height="20" fill="#000"/>
<rect x="1223" y="124" width="1" height="18" fill="#fff"/>
<rect x="1227" y="118" width="1" height="13" fill="#000"/>
<rect x="1226" y="121" width="3" height="4" fill="#000"/>
<rect x="1227" y="122" width="1" height="2" fill="#fff"/>
<rect x="1231" y="87" width="1" height="39" fill="#000"/>
<rect x="1230" y="88" width="3" height="34" fill="#000"/>
<rect x="1231" y="89" width="1" height="32" fill="#fff"/>
<rect x="1235" y="62" width="1" height="31" fill="#000"/>
<rect x="1234" y="74" width="3" height="15" fill="#000"/>
<rect x="1235" y="75" width="1" height="13" fill="#fff"/>
<rect x="1239" y="57" width="1" height="27" fill="#000"/>
<rect x="1238" y="64" width="3" height="13" fill="#000"/>
<rect x="1239" y="65" width="1" height="11" fill="#fff"/>
<rect x="1243" y="59" width="1" height="19" fill="#000"/>
<rect x="1242" y="65" width="3" height="10" fill="#000"/>
<rect x="1247" y="68" width="1" height="18" fill="#000"/>
<rect x="1246" y="73" width="3" height="9" fill="#000"/>
<rect x="1251" y="42" width="1" height="41" fill="#000"/>
<rect x="1250" y="47" width="3" height="35" fill="#000"/>
<rect x="1251" y="48" width="1" height="33" fill="#fff"/>
<rect x="1255" y="44" width="1" height="29" fill="#000"/>
<rect x="1254" y="47" width="3" height="4" fill="#000"/>
<rect x="1259" y="46" width="1" height="18" fill="#000"/>
<rect x="1258" y="49" width="3" height="11" fill="#000"/>
<rect x="1263" y="58" width="1" height="45" fill="#000"/>
<rect x="1262" y="59" width="3" height="4" fill="#000"/>
<rect x="1267" y="51" width="1" height="17" fill="#000"/>
<rect x="1266" y="58" width="3" height="4" fill="#000"/>
<rect x="1267" y="59" width="1" height="2" fill="#fff"/>
<rect x="1271" y="51" width="1" height="21" fill="#000"/>
<rect x="1270" y="54" width="3" height="5" fill="#000"/>
<rect x="1271" y="55" width="1" height="3" fill="#fff"/>
<rect x="1275" y="37" width="1" height="21" fill="#000"/>
<rect x="1274" y="48" width="3" height="6" fill="#000"/>
<rect x="1275" y="49" width="1" height="4" fill="#fff"/>
<rect x="1279" y="38" width="1" height="17" fill="#000"/>
<rect x="1278" y="44" width="3" height="6" fill="#000"/>
<rect x="1279" y="45" width="1" height="4" fill="#fff"/>
<rect x="1283" y="29" width="1" height="21" fill="#000"/>
<rect x="1282" y="43" width="3" height="4" fill="#000"/>
<rect x="1287" y="40" width="1" height="28" fill="#000"/>
<rect x="1286" y="45" width="3" height="8" fill="#000"/>
<rect x="1291" y="45" width="1" height="40" fill="#000"/>
<rect x="1290" y="52" width="3" height="19" fill="#000"/>
<rect x="1295" y="57" width="1" height="40" fill="#000"/>
<rect x="1294" y="69" width="3" height="22" fill="#000"/>
<rect x="1299" y="80" width="1" height="58" fill="#000"/>
<rect x="1298" y="89" width="3" height="48" fill="#000"/>
<rect x="1303" y="98" width="1" height="127" fill="#000"/>
<rect x="1302" y="133" width="3" height="4" fill="#000"/>
<rect x="1303" y="134" width="1" height="2" fill="#fff"/>
<rect x="1307" y="85" width="1" height="58" fill="#000"/>
<rect x="1306" y="86" width="3" height="49" fill="#000"/>
<rect x="1307" y="87" width="1" height="47" fill="#fff"/>
<rect x="1311" y="84" width="1" height="54" fill="#000"/>
<rect x="1310" y="86" width="3" height="41" fill="#000"/>
<rect x="1315" y="119" width="1" height="74" fill="#000"/>
<rect x="1314" y="125" width="3" height="45" fill="#000"/>
<rect x="1319" y="147" width="1" height="106" fill="#000"/>
<rect x="1318" y="169" width="3" height="32" fill="#000"/>
<rect x="1323" y="174" width="1" height="79" fill="#000"/>
<rect x="1322" y="188" width="3" height="14" fill="#000"/>
<rect x="1323" y="189" width="1" height="12" fill="#fff"/>
<rect x="1327" y="178" width="1" height="60" fill="#000"/>
<rect x="1326" y="188" width="3" height="29" fill="#000"/>
<rect x="1331" y="193" width="1" height="56" fill="#000"/>
<rect x="1330" y="202" width="3" height="15" fill="#000"/>
<rect x="1331" y="203" width="1" height="13" fill="#fff"/>
<rect x="1335" y="163" width="1" height="56" fill="#000"/>
<rect x="1334" y="164" width="3" height="39" fill="#000"/>
<rect x="1335" y="165" width="1" height="37" fill="#fff"/>
<rect x="1339" y="144" width="1" height="27" fill="#000"/>
<rect x="1338" y="165" width="3" height="1" fill="#000"/>
<rect x="1343" y="144" width="1" height="33" fill="#000"/>
<rect x="1342" y="152" width="3" height="14" fill="#000"/>
<rect x="1343" y="153" width="1" height="12" fill="#fff"/>
<rect x="1347" y="145" width="1" height="39" fill="#000"/>
<rect x="1346" y="152" width="3" height="26" fill="#000"/>
<rect x="1351" y="164" width="1" height="30" fill="#000"/>
<rect x="1350" y="166" width="3" height="12" fill="#000"/>
<rect x="1351" y="167" width="1" height="10" fill="#fff"/>
<rect x="1355" y="165" width="1" height="35" fill="#000"/>
<rect x="1354" y="166" width="3" height="23" fill="#000"/>
<rect x="1359" y="152" width="1" height="48" fill="#000"/>
<rect x="1358" y="159" width="3" height="30" fill="#000"/>
<rect x="1359" y="160" width="1" height="28" fill="#fff"/>
<rect x="1363" y="153" width="1" height="23" fill="#000"/>
<rect x="1362" y="160" width="3" height="1" fill="#000"/>
<rect x="1367" y="157" width="1" height="34" fill="#000"/>
<rect x="1366" y="160" width="3" height="24" fill="#000"/>
<rect x="1371" y="132" width="1" height="55" fill="#000"/>
<rect x="1370" y="144" width="3" height="40" fill="#000"/>
<rect x="1371" y="145" width="1" height="38" fill="#fff"/>
<rect x="1375" y="141" width="1" height="39" fill="#000"/>
<rect x="1374" y="144" width="3" height="32" fill="#000"/>
<rect x="1379" y="166" width="1" height="36" fill="#000"/>
<rect x="1378" y="175" width="3" height="25" fill="#000"/>
<rect x="1383" y="186" width="1" height="47" fill="#000"/>
<rect x="1382" y="199" width="3" height="28" fill="#000"/>
<rect x="1387" y="203" width="1" height="41" fill="#000"/>
<rect x="1386" y="226" width="3" height="17" fill="#000"/>
<rect x="1391" y="223" width="1" height="43" fill="#000"/>
<rect x="1390" y="226" width="3" height="16" fill="#000"/>
<rect x="1391" y="227" width="1" height="14" fill="#fff"/>
<rect x="1395" y="213" width="1" height="28" fill="#000"/>
<rect x="1394" y="226" width="3" height="10" fill="#000"/>
<rect x="1399" y="194" width="1" height="44" fill="#000"/>
<rect x="1398" y="205" width="3" height="31" fill="#000"/>
<rect x="1399" y="206" width="1" height="29" fill="#fff"/>
<rect x="1403" y="202" width="1" height="42" fill="#000"/>
<rect x="1402" y="205" width="3" height="36" fill="#000"/>
<rect x="1407" y="201" width="1" height="49" fill="#000"/>
<rect x="1406" y="204" width="3" height="37" fill="#000"/>
<rect x="1407" y="205" width="1" height="35" fill="#fff"/>
<rect x="1411" y="200" width="1" height="15" fill="#000"/>
<rect x="1410" y="204" width="3" height="1" fill="#000"/>
<rect x="1415" y="194" width="1" height="36" fill="#000"/>
<rect x="1414" y="204" width="3" height="20" fill="#000"/>
<rect x="1419" y="203" width="1" height="22" fill="#000"/>
<rect x="1418" y="209" width="3" height="15" fill="#000"/>
<rect x="1419" y="210" width="1" height="13" fill="#fff"/>
<rect x="1423" y="206" width="1" height="24" fill="#000"/>
<rect x="1422" y="208" width="3" height="9" fill="#000"/>
<rect x="1427" y="208" width="1" height="17" fill="#000"/>
<rect x="1426" y="215" width="3" height="6" fill="#000"/>
<rect x="1431" y="218" width="1" height="33" fill="#000"/>
<rect x="1430" y="219" width="3" height="8" fill="#000"/>
<rect x="1435" y="224" width="1" height="42" fill="#000"/>
<rect x="1434" y="226" width="3" height="29" fill="#000"/>
<rect x="1439" y="241" width="1" height="29" fill="#000"/>
<rect x="1438" y="248" width="3" height="7" fill="#000"/>
<rect x="1439" y="249" width="1" height="5" fill="#fff"/>
<rect x="1443" y="241" width="1" height="25" fill="#000"/>
<rect x="1442" y="248" width="3" height="17" fill="#000"/>
<rect x="1447" y="256" width="1" height="27" fill="#000"/>
<rect x="1446" y="263" width="3" height="19" fill="#000"/>
<rect x="1451" y="242" width="1" height="41" fill="#000"/>
<rect x="1450" y="246" width="3" height="36" fill="#000"/>
<rect x="1451" y="247" width="1" height="34" fill="#fff"/>
<rect x="1455" y="222" width="1" height="31" fill="#000"/>
<rect x="1454" y="230" width="3" height="18" fill="#000"/>
<rect x="1455" y="231" width="1" height="16" fill="#fff"/>
<rect x="1459" y="219" width="1" height="16" fill="#000"/>
<rect x="1458" y="230" width="3" height="1" fill="#000"/>
<rect x="1463" y="208" width="1" height="34" fill="#000"/>
<rect x="1462" y="210" width="3" height="22" fill="#000"/>
<rect x="1463" y="211" width="1" height="20" fill="#fff"/>
<rect x="1467" y="194" width="1" height="26" fill="#000"/>
<rect x="1466" y="202" width="3" height="9" fill="#000"/>
<rect x="1467" y="203" width="1" height="7" fill="#fff"/>
<rect x="1471" y="174" width="1" height="34" fill="#000"/>
<rect x="1470" y="189" width="3" height="14" fill="#000"/>
<rect x="1471" y="190" width="1" height="12" fill="#fff"/>
<rect x="1475" y="184" width="1" height="18" fill="#000"/>
<rect x="1474" y="186" width="3" height="5" fill="#000"/>
<rect x="1475" y="187" width="1" height="3" fill="#fff"/>
<rect x="1479" y="163" width="1" height="28" fill="#000"/>
<rect x="1478" y="163" width="3" height="24" fill="#000"/>
<rect x="1479" y="164" width="1" height="22" fill="#fff"/>
<rect x="3" y="678" width="1" height="40" fill="#00008b"/>
<rect x="7" y="676" width="1" height="42" fill="#00008b"/>
<rect x="11" y="673" width="1" height="45" fill="#00008b"/>
<rect x="15" y="671" width="1" height="47" fill="#00008b"/>
<rect x="19" y="668" width="1" height="50" fill="#00008b"/>
<rect x="23" y="666" width="1" height="52" fill="#00008b"/>
<rect x="27" y="669" width="1" height="49" fill="#00008b"/>
<rect x="31" y="670" width="1" height="48" fill="#00008b"/>
<rect x="35" y="670" width="1" height="48" fill="#00008b"/>
<rect x="39" y="669" width="1" height="49" fill="#00008b"/>
<rect x="43" y="669" width="1" height="49" fill="#00008b"/>
<rect x="47" y="670" width="1" height="48" fill="#00008b"/>
<rect x="51" y="668" width="1" height="50" fill="#00008b"/>
<rect x="55" y="672" width="1" height="46" fill="#00008b"/>
<rect x="59" y="674" width="1" height="44" fill="#00008b"/>
<rect x="63" y="674" width="1" height="44" fill="#00008b"/>
<rect x="67" y="674" width="1" height="44" fill="#00008b"/>
<rect x="71" y="674" width="1" height="44" fill="#00008b"/>
<rect x="75" y="667" width="1" height="51" fill="#00008b"/>
<rect x="79" y="654" width="1" height="64" fill="#00008b"/>
<rect x="83" y="652" width="1" height="66" fill="#00008b"/>
<rect x="87" y="645" width="1" height="73" fill="#00008b"/>
<rect x="91" y="636" width="1" height="82" fill="#00008b"/>
<rect x="95" y="626" width="1" height="92" fill="#00008b"/>
<rect x="99" y="622" width="1" height="96" fill="#00008b"/>
<rect x="103" y="625" width="1" height="93" fill="#00008b"/>
<rect x="107" y="624" width="1" height="94" fill="#00008b"/>
<rect x="111" y="627" width="1" height="91" fill="#00008b"/>
<rect x="115" y="632" width="1" height="86" fill="#00008b"/>
<rect x="119" y="647" width="1" height="71" fill="#00008b"/>
<rect x="123" y="657" width="1" height="61" fill="#00008b"/>
<rect x="127" y="667" width="1" height="51" fill="#00008b"/>
<rect x="131" y="674" width="1" height="44" fill="#00008b"/>
<rect x="135" y="673" width="1" height="45" fill="#00008b"/>
<rect x="139" y="683" width="1" height="35" fill="#00008b"/>
<rect x="143" y="687" width="1" height="31" fill="#00008b"/>
<rect x="147" y="691" width="1" height="27" fill="#00008b"/>
<rect x="151" y="687" width="1" height="31" fill="#00008b"/>
<rect x="155" y="680" width="1" height="38" fill="#00008b"/>
<rect x="159" y="674" width="1" height="44" fill="#00008b"/>
<rect x="163" y="665" width="1" height="53" fill="#00008b"/>
<rect x="167" y="663" width="1" height="55" fill="#00008b"/>
<rect x="171" y="659" width="1" height="59" fill="#00008b"/>
<rect x="175" y="655" width="1" height="63" fill="#00008b"/>
<rect x="179" y="648" width="1" height="70" fill="#00008b"/>
<rect x="183" y="639" width="1" height="79" fill="#00008b"/>
<rect x="187" y="630" width="1" height="88" fill="#00008b"/>
<rect x="191" y="622" width="1" height="96" fill="#00008b"/>
<rect x="195" y="615" width="1" height="103" fill="#00008b"/>
<rect x="199" y="604" width="1" height="114" fill="#00008b"/>
<rect x="203" y="595" width="1" height="123" fill="#00008b"/>
<rect x="207" y="595" width="1" height="123" fill="#00008b"/>
<rect x="211" y="600" width="1" height="118" fill="#00008b"/>
<rect x="215" y="598" width="1" height="120" fill="#00008b"/>
<rect x="219" y="589" width="1" height="129" fill="#00008b"/>
<rect x="223" y="585" width="1" height="133" fill="#00008b"/>
<rect x="227" y="588" width="1" height="130" fill="#00008b"/>
<rect x="231" y="592" width="1" height="126" fill="#00008b"/>
<rect x="235" y="599" width="1" height="119" fill="#00008b"/>
<rect x="239" y="602" width="1" height="116" fill="#00008b"/>
<rect x="243" y="601" width="1" height="117" fill="#00008b"/>
<rect x="247" y="605" width="1" height="113" fill="#00008b"/>
<rect x="251" y="607" width="1" height="111" fill="#00008b"/>
<rect x="255" y="610" width="1" height="108" fill="#00008b"/>
<rect x="259" y="616" width="1" height="102" fill="#00008b"/>
<rect x="263" y="621" width="1" height="97" fill="#00008b"/>
<rect x="267" y="630" width="1" height="88" fill="#00008b"/>
<rect x="271" y="645" width="1" height="73" fill="#00008b"/>
<rect x="275" y="661" width="1" height="57" fill="#00008b"/>
<rect x="279" y="678" width="1" height="40" fill="#00008b"/>
<rect x="283" y="702" width="1" height="16" fill="#00008b"/>
<rect x="287" y="717" width="1" height="2" fill="#00008b"/>
<rect x="291" y="717" width="1" height="23" fill="#00008b"/>
<rect x="295" y="717" width="1" height="44" fill="#00008b"/>
<rect x="299" y="717" width="1" height="55" fill="#00008b"/>
<rect x="303" y="717" width="1" height="61" fill="#00008b"/>
<rect x="307" y="717" width="1" height="57" fill="#00008b"/>
<rect x="311" y="717" width="1" height="54" fill="#00008b"/>
<rect x="315" y="717" width="1" height="61" fill="#00008b"/>
<rect x="319" y="717" width="1" height="60" fill="#00008b"/>
<rect x="323" y="717" width="1" height="59" fill="#00008b"/>
<rect x="327" y="717" width="1" height="66" fill="#00008b"/>
<rect x="331" y="717" width="1" height="69" fill="#00008b"/>
<rect x="335" y="717" width="1" height="66" fill="#00008b"/>
<rect x="339" y="717" width="1" height="63" fill="#00008b"/>
<rect x="343" y="717" width="1" height="55" fill="#00008b"/>
<rect x="347" y="717" width="1" height="39" fill="#00008b"/>
<rect x="351" y="717" width="1" height="24" fill="#00008b"/>
<rect x="355" y="717" width="1" height="12" fill="#00008b"/>
<rect x="359" y="717" width="1" height="2" fill="#00008b"/>
<rect x="363" y="705" width="1" height="13" fill="#00008b"/>
<rect x="367" y="692" width="1" height="26" fill="#00008b"/>
<rect x="371" y="685" width="1" height="33" fill="#00008b"/>
<rect x="375" y="678" width="1" height="40" fill="#00008b"/>
<rect x="379" y="679" width="1" height="39" fill="#00008b"/>
<rect x="383" y="677" width="1" height="41" fill="#00008b"/>
<rect x="387" y="682" width="1" height="36" fill="#00008b"/>
<rect x="391" y="693" width="1" height="25" fill="#00008b"/>
<rect x="395" y="700" width="1" height="18" fill="#00008b"/>
<rect x="399" y="704" width="1" height="14" fill="#00008b"/>
<rect x="403" y="711" width="1" height="7" fill="#00008b"/>
<rect x="407" y="709" width="1" height="9" fill="#00008b"/>
<rect x="411" y="709" width="1" height="9" fill="#00008b"/>
<rect x="415" y="711" width="1" height="7" fill="#00008b"/>
<rect x="423" y="717" width="1" height="2" fill="#00008b"/>
<rect x="427" y="717" width="1" height="8" fill="#00008b"/>
<rect x="431" y="717" width="1" height="18" fill="#00008b"/>
<rect x="435" y="717" width="1" height="26" fill="#00008b"/>
<rect x="439" y="717" width="1" height="26" fill="#00008b"/>
<rect x="443" y="717" width="1" height="21" fill="#00008b"/>
<rect x="447" y="717" width="1" height="20" fill="#00008b"/>
<rect x="451" y="717" width="1" height="22" fill="#00008b"/>
<rect x="455" y="717" width="1" height="17" fill="#00008b"/>
<rect x="459" y="717" width="1" height="13" fill="#00008b"/>
<rect x="463" y="717" width="1" height="14" fill="#00008b"/>
<rect x="467" y="717" width="1" height="11" fill="#00008b"/>
<rect x="471" y="717" width="1" height="8" fill="#00008b"/>
<rect x="475" y="717" width="1" height="7" fill="#00008b"/>
<rect x="479" y="717" width="1" height="2" fill="#00008b"/>
<rect x="483" y="716" width="1" height="2" fill="#00008b"/>
<rect x="487" y="712" width="1" height="6" fill="#00008b"/>
<rect x="491" y="713" width="1" height="5" fill="#00008b"/>
<rect x="495" y="716" width="1" height="2" fill="#00008b"/>
<rect x="499" y="717" width="1" height="5" fill="#00008b"/>
<rect x="503" y="717" width="1" height="12" fill="#00008b"/>
<rect x="507" y="717" width="1" height="16" fill="#00008b"/>
<rect x="511" y="717" width="1" height="21" fill="#00008b"/>
<rect x="515" y="717" width="1" height="23" fill="#00008b"/>
<rect x="519" y="717" width="1" height="26" fill="#00008b"/>
<rect x="523" y="717" width="1" height="28" fill="#00008b"/>
<rect x="527" y="717" width="1" height="38" fill="#00008b"/>
<rect x="531" y="717" width="1" height="48" fill="#00008b"/>
<rect x="535" y="717" width="1" height="58" fill="#00008b"/>
<rect x="539" y="717" width="1" height="69" fill="#00008b"/>
<rect x="543" y="717" width="1" height="82" fill="#00008b"/>
<rect x="547" y="717" width="1" height="82" fill="#00008b"/>
<rect x="551" y="717" width="1" height="84" fill="#00008b"/>
<rect x="555" y="717" width="1" height="81" fill="#00008b"/>
<rect x="559" y="717" width="1" height="75" fill="#00008b"/>
<rect x="563" y="717" width="1" height="66" fill="#00008b"/>
<rect x="567" y="717" width="1" height="61" fill="#00008b"/>
<rect x="571" y="717" width="1" height="54" fill="#00008b"/>
<rect x="575" y="717" width="1" height="52" fill="#00008b"/>
<rect x="579" y="717" width="1" height="52" fill="#00008b"/>
<rect x="583" y="717" width="1" height="50" fill="#00008b"/>
<rect x="587" y="717" width="1" height="48" fill="#00008b"/>
<rect x="591" y="717" width="1" height="48" fill="#00008b"/>
<rect x="595" y="717" width="1" height="43" fill="#00008b"/>
<rect x="599" y="717" width="1" height="38" fill="#00008b"/>
<rect x="603" y="717" width="1" height="36" fill="#00008b"/>
<rect x="607" y="717" width="1" height="37" fill="#00008b"/>
<rect x="611" y="717" width="1" height="37" fill="#00008b"/>
<rect x="615" y="717" width="1" height="33" fill="#00008b"/>
<rect x="619" y="717" width="1" height="27" fill="#00008b"/>
<rect x="623" y="717" width="1" height="20" fill="#00008b"/>
<rect x="627" y="717" width="1" height="12" fill="#00008b"/>
<rect x="631" y="717" width="1" height="5" fill="#00008b"/>
<rect x="635" y="717" width="1" height="6" fill="#00008b"/>
<rect x="639" y="717" width="1" height="8" fill="#00008b"/>
<rect x="643" y="717" width="1" height="12" fill="#00008b"/>
<rect x="647" y="717" width="1" height="17" fill="#00008b"/>
<rect x="651" y="717" width="1" height="19" fill="#00008b"/>
<rect x="655" y="717" width="1" height="19" fill="#00008b"/>
<rect x="659" y="717" width="1" height="20" fill="#00008b"/>
<rect x="663" y="717" width="1" height="21" fill="#00008b"/>
<rect x="667" y="717" width="1" height="23" fill="#00008b"/>
<rect x="671" y="717" width="1" height="28" fill="#00008b"/>
<rect x="675" y="717" width="1" height="34" fill="#00008b"/>
<rect x="679" y="717" width="1" height="37" fill="#00008b"/>
<rect x="683" y="717" width="1" height="37" fill="#00008b"/>
<rect x="687" y="717" width="1" height="37" fill="#00008b"/>
<rect x="691" y="717" width="1" height="33" fill="#00008b"/>
<rect x="695" y="717" width="1" height="30" fill="#00008b"/>
<rect x="699" y="717" width="1" height="26" fill="#00008b"/>
<rect x="703" y="717" width="1" height="20" fill="#00008b"/>
<rect x="707" y="717" width="1" height="10" fill="#00008b"/>
<rect x="711" y="717" width="1" height="3" fill="#00008b"/>
<rect x="715" y="713" width="1" height="5" fill="#00008b"/>
<rect x="719" y="693" width="1" height="25" fill="#00008b"/>
<rect x="723" y="669" width="1" height="49" fill="#00008b"/>
<rect x="727" y="662" width="1" height="56" fill="#00008b"/>
<rect x="731" y="664" width="1" height="54" fill="#00008b"/>
<rect x="735" y="669" width="1" height="49" fill="#00008b"/>
<rect x="739" y="676" width="1" height="42" fill="#00008b"/>
<rect x="743" y="678" width="1" height="40" fill="#00008b"/>
<rect x="747" y="680" width="1" height="38" fill="#00008b"/>
<rect x="751" y="683" width="1" height="35" fill="#00008b"/>
<rect x="755" y="683" width="1" height="35" fill="#00008b"/>
<rect x="759" y="686" width="1" height="32" fill="#00008b"/>
<rect x="763" y="691" width="1" height="27" fill="#00008b"/>
<rect x="767" y="698" width="1" height="20" fill="#00008b"/>
<rect x="771" y="702" width="1" height="16" fill="#00008b"/>
<rect x="775" y="709" width="1" height="9" fill="#00008b"/>
<rect x="779" y="716" width="1" height="2" fill="#00008b"/>
<rect x="783" y="716" width="1" height="2" fill="#00008b"/>
<rect x="787" y="714" width="1" height="4" fill="#00008b"/>
<rect x="791" y="712" width="1" height="6" fill="#00008b"/>
<rect x="795" y="711" width="1" height="7" fill="#00008b"/>
<rect x="799" y="711" width="1" height="7" fill="#00008b"/>
<rect x="803" y="711" width="1" height="7" fill="#00008b"/>
<rect x="807" y="711" width="1" height="7" fill="#00008b"/>
<rect x="811" y="711" width="1" height="7" fill="#00008b"/>
<rect x="815" y="704" width="1" height="14" fill="#00008b"/>
<rect x="819" y="701" width="1" height="17" fill="#00008b"/>
<rect x="823" y="699" width="1" height="19" fill="#00008b"/>
<rect x="827" y="694" width="1" height="24" fill="#00008b"/>
<rect x="831" y="688" width="1" height="30" fill="#00008b"/>
<rect x="835" y="682" width="1" height="36" fill="#00008b"/>
<rect x="839" y="680" width="1" height="38" fill="#00008b"/>
<rect x="843" y="676" width="1" height="42" fill="#00008b"/>
<rect x="847" y="670" width="1" height="48" fill="#00008b"/>
<rect x="851" y="665" width="1" height="53" fill="#00008b"/>
<rect x="855" y="658" width="1" height="60" fill="#00008b"/>
<rect x="859" y="655" width="1" height="63" fill="#00008b"/>
<rect x="863" y="655" width="1" height="63" fill="#00008b"/>
<rect x="867" y="654" width="1" height="64" fill="#00008b"/>
<rect x="871" y="657" width="1" height="61" fill="#00008b"/>
<rect x="875" y="658" width="1" height="60" fill="#00008b"/>
<rect x="879" y="664" width="1" height="54" fill="#00008b"/>
<rect x="883" y="667" width="1" height="51" fill="#00008b"/>
<rect x="887" y="670" width="1" height="48" fill="#00008b"/>
<rect x="891" y="667" width="1" height="51" fill="#00008b"/>
<rect x="895" y="666" width="1" height="52" fill="#00008b"/>
<rect x="899" y="667" width="1" height="51" fill="#00008b"/>
<rect x="903" y="665" width="1" height="53" fill="#00008b"/>
<rect x="907" y="661" width="1" height="57" fill="#00008b"/>
<rect x="911" y="655" width="1" height="63" fill="#00008b"/>
<rect x="915" y="650" width="1" height="68" fill="#00008b"/>
<rect x="919" y="646" width="1" height="72" fill="#00008b"/>
<rect x="923" y="644" width="1" height="74" fill="#00008b"/>
<rect x="927" y="652" width="1" height="66" fill="#00008b"/>
<rect x="931" y="658" width="1" height="60" fill="#00008b"/>
<rect x="935" y="660" width="1" height="58" fill="#00008b"/>
<rect x="939" y="666" width="1" height="52" fill="#00008b"/>
<rect x="943" y="674" width="1" height="44" fill="#00008b"/>
<rect x="947" y="678" width="1" height="40" fill="#00008b"/>
<rect x="951" y="682" width="1" height="36" fill="#00008b"/>
<rect x="955" y="685" width="1" height="33" fill="#00008b"/>
<rect x="959" y="686" width="1" height="32" fill="#00008b"/>
<rect x="963" y="671" width="1" height="47" fill="#00008b"/>
<rect x="967" y="654" width="1" height="64" fill="#00008b"/>
<rect x="971" y="637" width="1" height="81" fill="#00008b"/>
<rect x="975" y="616" width="1" height="102" fill="#00008b"/>
<rect x="979" y="596" width="1" height="122" fill="#00008b"/>
<rect x="983" y="585" width="1" height="133" fill="#00008b"/>
<rect x="987" y="578" width="1" height="140" fill="#00008b"/>
<rect x="991" y="573" width="1" height="145" fill="#00008b"/>
<rect x="995" y="568" width="1" height="150" fill="#00008b"/>
<rect x="999" y="570" width="1" height="148" fill="#00008b"/>
<rect x="1003" y="573" width="1" height="145" fill="#00008b"/>
<rect x="1007" y="576" width="1" height="142" fill="#00008b"/>
<rect x="1011" y="586" width="1" height="132" fill="#00008b"/>
<rect x="1015" y="596" width="1" height="122" fill="#00008b"/>
<rect x="1019" y="608" width="1" height="110" fill="#00008b"/>
<rect x="1023" y="620" width="1" height="98" fill="#00008b"/>
<rect x="1027" y="629" width="1" height="89" fill="#00008b"/>
<rect x="1031" y="633" width="1" height="85" fill="#00008b"/>
<rect x="1035" y="628" width="1" height="90" fill="#00008b"/>
<rect x="1039" y="625" width="1" height="93" fill="#00008b"/>
<rect x="1043" y="625" width="1" height="93" fill="#00008b"/>
<rect x="1047" y="621" width="1" height="97" fill="#00008b"/>
<rect x="1051" y="623" width="1" height="95" fill="#00008b"/>
<rect x="1055" y="625" width="1" height="93" fill="#00008b"/>
<rect x="1059" y="626" width="1" height="92" fill="#00008b"/>
<rect x="1063" y="628" width="1" height="90" fill="#00008b"/>
<rect x="1067" y="630" width="1" height="88" fill="#00008b"/>
<rect x="1071" y="633" width="1" height="85" fill="#00008b"/>
<rect x="1075" y="636" width="1" height="82" fill="#00008b"/>
<rect x="1079" y="643" width="1" height="75" fill="#00008b"/>
<rect x="1083" y="650" width="1" height="68" fill="#00008b"/>
<rect x="1087" y="657" width="1" height="61" fill="#00008b"/>
<rect x="1091" y="661" width="1" height="57" fill="#00008b"/>
<rect x="1095" y="664" width="1" height="54" fill="#00008b"/>
<rect x="1099" y="660" width="1" height="58" fill="#00008b"/>
<rect x="1103" y="656" width="1" height="62" fill="#00008b"/>
<rect x="1107" y="656" width="1" height="62" fill="#00008b"/>
<rect x="1111" y="656" width="1" height="62" fill="#00008b"/>
<rect x="1115" y="657" width="1" height="61" fill="#00008b"/>
<rect x="1119" y="661" width="1" height="57" fill="#00008b"/>
<rect x="1123" y="673" width="1" height="45" fill="#00008b"/>
<rect x="1127" y="679" width="1" height="39" fill="#00008b"/>
<rect x="1131" y="680" width="1" height="38" fill="#00008b"/>
<rect x="1135" y="680" width="1" height="38" fill="#00008b"/>
<rect x="1139" y="682" width="1" height="36" fill="#00008b"/>
<rect x="1143" y="683" width="1" height="35" fill="#00008b"/>
<rect x="1147" y="680" width="1" height="38" fill="#00008b"/>
<rect x="1151" y="678" width="1" height="40" fill="#00008b"/>
<rect x="1155" y="680" width="1" height="38" fill="#00008b"/>
<rect x="1159" y="683" width="1" height="35" fill="#00008b"/>
<rect x="1163" y="684" width="1" height="34" fill="#00008b"/>
<rect x="1167" y="683" width="1" height="35" fill="#00008b"/>
<rect x="1171" y="680" width="1" height="38" fill="#00008b"/>
<rect x="1175" y="670" width="1" height="48" fill="#00008b"/>
<rect x="1179" y="664" width="1" height="54" fill="#00008b"/>
<rect x="1183" y="658" width="1" height="60" fill="#00008b"/>
<rect x="1187" y="650" width="1" height="68" fill="#00008b"/>
<rect x="1191" y="644" width="1" height="74" fill="#00008b"/>
<rect x="1195" y="642" width="1" height="76" fill="#00008b"/>
<rect x="1199" y="642" width="1" height="76" fill="#00008b"/>
<rect x="1203" y="644" width="1" height="74" fill="#00008b"/>
<rect x="1207" y="646" width="1" height="72" fill="#00008b"/>
<rect x="1211" y="648" width="1" height="70" fill="#00008b"/>
<rect x="1215" y="652" width="1" height="66" fill="#00008b"/>
<rect x="1219" y="656" width="1" height="62" fill="#00008b"/>
<rect x="1223" y="654" width="1" height="64" fill="#00008b"/>
<rect x="1227" y="652" width="1" height="66" fill="#00008b"/>
<rect x="1231" y="644" width="1" height="74" fill="#00008b"/>
<rect x="1235" y="632" width="1" height="86" fill="#00008b"/>
<rect x="1239" y="622" width="1" height="96" fill="#00008b"/>
<rect x="1243" y="616" width="1" height="102" fill="#00008b"/>
<rect x="1247" y="616" width="1" height="102" fill="#00008b"/>
<rect x="1251" y="608" width="1" height="110" fill="#00008b"/>
<rect x="1255" y="602" width="1" height="116" fill="#00008b"/>
<rect x="1259" y="602" width="1" height="116" fill="#00008b"/>
<rect x="1263" y="604" width="1" height="114" fill="#00008b"/>
<rect x="1267" y="606" width="1" height="112" fill="#00008b"/>
<rect x="1271" y="608" width="1" height="110" fill="#00008b"/>
<rect x="1275" y="609" width="1" height="109" fill="#00008b"/>
<rect x="1279" y="609" width="1" height="109" fill="#00008b"/>
<rect x="1283" y="611" width="1" height="107" fill="#00008b"/>
<rect x="1287" y="618" width="1" height="100" fill="#00008b"/>
<rect x="1291" y="628" width="1" height="90" fill="#00008b"/>
<rect x="1295" y="645" width="1" height="73" fill="#00008b"/>
<rect x="1299" y="670" width="1" height="48" fill="#00008b"/>
<rect x="1303" y="688" width="1" height="30" fill="#00008b"/>
<rect x="1307" y="692" width="1" height="26" fill="#00008b"/>
<rect x="1311" y="707" width="1" height="11" fill="#00008b"/>
<rect x="1315" y="717" width="1" height="8" fill="#00008b"/>
<rect x="1319" y="717" width="1" height="36" fill="#00008b"/>
<rect x="1323" y="717" width="1" height="55" fill="#00008b"/>
<rect x="1327" y="717" width="1" height="76" fill="#00008b"/>
<rect x="1331" y="717" width="1" height="89" fill="#00008b"/>
<rect x="1335" y="717" width="1" height="87" fill="#00008b"/>
<rect x="1339" y="717" width="1" height="84" fill="#00008b"/>
<rect x="1343" y="717" width="1" height="77" fill="#00008b"/>
<rect x="1347" y="717" width="1" height="78" fill="#00008b"/>
<rect x="1351" y="717" width="1" height="76" fill="#00008b"/>
<rect x="1355" y="717" width="1" height="76" fill="#00008b"/>
<rect x="1359" y="717" width="1" height="71" fill="#00008b"/>
<rect x="1363" y="717" width="1" height="65" fill="#00008b"/>
<rect x="1367" y="717" width="1" height="66" fill="#00008b"/>
<rect x="1371" y="717" width="1" height="56" fill="#00008b"/>
<rect x="1375" y="717" width="1" height="56" fill="#00008b"/>
<rect x="1379" y="717" width="1" height="61" fill="#00008b"/>
<rect x="1383" y="717" width="1" height="72" fill="#00008b"/>
<rect x="1387" y="717" width="1" height="85" fill="#00008b"/>
<rect x="1391" y="717" width="1" height="92" fill="#00008b"/>
<rect x="1395" y="717" width="1" height="96" fill="#00008b"/>
<rect x="1399" y="717" width="1" height="92" fill="#00008b"/>
<rect x="1403" y="717" width="1" height="95" fill="#00008b"/>
<rect x="1407" y="717" width="1" height="88" fill="#00008b"/>
<rect x="1411" y="717" width="1" height="81" fill="#00008b"/>
<rect x="1415" y="717" width="1" height="80" fill="#00008b"/>
<rect x="1419" y="717" width="1" height="75" fill="#00008b"/>
<rect x="1423" y="717" width="1" height="71" fill="#00008b"/>
<rect x="1427" y="717" width="1" height="69" fill="#00008b"/>
<rect x="1431" y="717" width="1" height="68" fill="#00008b"/>
<rect x="1435" y="717" width="1" height="75" fill="#00008b"/>
<rect x="1439" y="717" width="1" height="78" fill="#00008b"/>
<rect x="1443" y="717" width="1" height="84" fill="#00008b"/>
<rect x="1447" y="717" width="1" height="92" fill="#00008b"/>
<rect x="1451" y="717" width="1" height="87" fill="#00008b"/>
<rect x="1455" y="717" width="1" height="78" fill="#00008b"/>
<rect x="1459" y="717" width="1" height="70" fill="#00008b"/>
<rect x="1463" y="717" width="1" height="57" fill="#00008b"/>
<rect x="1467" y="717" width="1" height="44" fill="#00008b"/>
<rect x="1471" y="717" width="1" height="30" fill="#00008b"/>
<rect x="1475" y="717" width="1" height="16" fill="#00008b"/>
<path d="M1316.5 728v7M625.5 731v2M974.5 619v5M355.5 727v3M1295.5 643v6M293.5 747v6M1340.5 798v2M716.5 706v5M539.5 784v3M989.5 575v2M570.5 771v2M263.5 621v2M964.5 665v4M721.5 678v6M593.5 761v2M1417.5 793v2M542.5 794v3M978.5 599v5M1319.5 749v6M269.5 636v4M1454.5 796v2M1312.5 710v4M91.5 635v3M1285.5 614v2M1288.5 620v2M280.5 682v6M923.5 644v2M773.5 705v2M1120.5 663v3M776.5 710v2M1173.5 674v3M1432.5 785v2M1299.5 667v6M968.5 648v4M290.5 732v5M1442.5 798v2M981.5 590v2M139.5 682v2M1292.5 631v4M1443.5 800v2M938.5 664v2M1254.5 603v2M453.5 735v2M385.5 679v2M1385.5 793v4M177.5 651v2M1008.5 578v2M189.5 625v2M1308.5 694v4M1367.5 781v2M597.5 756v2M286.5 713v4M715.5 711v3M279.5 676v6M154.5 681v2M1018.5 604v3M963.5 669v4M186.5 632v2M1467.5 759v3M976.5 609v5M1019.5 607v3M217.5 593v2M1230.5 645v2M1022.5 616v3M272.5 648v4M719.5 690v6M1322.5 764v5M1449.5 805v2M1315.5 722v6M1461.5 778v4M1172.5 677v2M707.5 726v2M282.5 694v6M980.5 592v3M275.5 660v4M283.5 700v5M556.5 795v2M830.5 689v2M285.5 709v4M538.5 781v3M1328.5 794v3M120.5 649v2M541.5 790v4M1465.5 765v4M153.5 683v2M302.5 775v2M268.5 632v4M185.5 634v2M1331.5 804v2M197.5 609v2M281.5 688v6M764.5 692v2M1119.5 661v2M291.5 737v5M1380.5 779v3M138.5 680v2M936.5 661v2M1444.5 802v2M1229.5 647v2M1381.5 782v2M706.5 728v2M115.5 632v2M853.5 661v2M209.5 597v2M1007.5 576v2M1126.5 677v2M722.5 672v6M1324.5 774v5M116.5 634v4M1384.5 790v3M388.5 684v3M365.5 697v4M1317.5 735v7M1183.5 657v2M966.5 657v4M1013.5 590v3M1081.5 646v2M1084.5 651v2M1014.5 593v2M1362.5 782v2M278.5 672v4M392.5 694v2M1457.5 789v2M352.5 736v3M298.5 767v3M373.5 681v2M500.5 722v2M1017.5 601v3M645.5 730v2M196.5 611v3M1464.5 769v3M1410.5 798v2M526.5 751v2M77.5 659v4M961.5 677v4M1314.5 718v4M984.5 583v2M1290.5 625v2M271.5 644v4M180.5 645v2M1293.5 635v4M533.5 768v3M705.5 730v3M1303.5 686v3M356.5 725v2M717.5 701v5M416.5 712v2M1387.5 800v2M536.5 776v3M1307.5 692v2M364.5 701v3M1309.5 698v4M1310.5 702v4M1327.5 790v4M119.5 646v3M372.5 683v2M431.5 733v3M1329.5 797v4M125.5 661v3M219.5 589v2M1330.5 801v3M1472.5 741v4M1463.5 772v3M733.5 666v2M1409.5 800v2M368.5 690v2M562.5 784v2M1240.5 620v2M1379.5 777v2M726.5 663v2M737.5 672v2M179.5 647v2M1405.5 807v2M203.5 595v2M159.5 673v2M1012.5 588v2M393.5 696v2M296.5 762v3M362.5 707v3M621.5 739v2M297.5 765v2M1296.5 649v6M342.5 772v2M565.5 779v2M543.5 797v2M218.5 591v2M1313.5 714v4M367.5 692v2M561.5 786v2M1239.5 622v2M725.5 665v2M777.5 712v2M973.5 624v6M1404.5 809v2M158.5 675v2M353.5 733v3M1386.5 797v3M1466.5 762v3M1318.5 742v7M441.5 739v2M1298.5 661v6M124.5 659v2M720.5 684v6M289.5 726v6M341.5 774v2M738.5 674v2M502.5 726v2M90.5 638v2M1025.5 624v2M814.5 705v2M834.5 683v2M73.5 670v2M1238.5 624v2M1477.5 724v3M86.5 646v2M849.5 667v2M261.5 618v2M972.5 630v5M426.5 722v2M910.5 656v2M825.5 696v2M1474.5 734v4M265.5 625v2M184.5 636v2M630.5 722v2M340.5 776v2M1287.5 618v2M761.5 688v2M626.5 729v2M852.5 663v2M1300.5 673v4M89.5 640v2M1370.5 774v2M181.5 643v2M193.5 618v2M1445.5 804v2M1469.5 752v3M85.5 648v2M828.5 692v2M702.5 737v2M1456.5 791v2M1357.5 789v2M1020.5 610v3M629.5 724v2M501.5 724v2M1323.5 769v5M192.5 620v2M560.5 788v2M1369.5 776v3M324.5 776v2M1468.5 755v4M294.5 753v5M424.5 719v2M176.5 653v2M188.5 627v2M200.5 601v2M1232.5 640v3M970.5 640v4M1174.5 672v2M1289.5 622v3M982.5 587v3M76.5 663v3M347.5 754v3M1009.5 580v3M477.5 720v2M387.5 682v2M620.5 741v2M287.5 717v4M199.5 603v3M300.5 772v2M394.5 698v2M1247.5 615v2M616.5 747v2M1231.5 643v2M528.5 756v2M1471.5 745v3M75.5 666v2M724.5 667v2M1185.5 653v2M535.5 773v3M346.5 757v4M1235.5 631v3M1250.5 609v2M400.5 705v2M121.5 651v3M79.5 654v2M433.5 738v2M127.5 666v2M1188.5 648v2M765.5 694v2M358.5 720v2M1470.5 748v4M940.5 668v2M1033.5 630v2M1382.5 784v3M1184.5 655v2M1325.5 779v6M672.5 745v2M295.5 758v4M276.5 664v4M876.5 659v2M1085.5 653v2M1015.5 595v3M1180.5 662v2M232.5 593v2M78.5 656v3M1453.5 798v2M1176.5 668v2M975.5 614v5M349.5 746v4M527.5 753v3M1122.5 669v3M292.5 742v5M967.5 652v5M1077.5 639v2M1342.5 794v2M418.5 715v2M344.5 765v4M714.5 714v2M288.5 721v5M93.5 630v3M1473.5 738v3M563.5 782v2M126.5 664v2M1433.5 787v2M1452.5 800v2M983.5 585v2M1027.5 628v2M718.5 696v5M1406.5 805v2M1024.5 622v2M274.5 656v4M284.5 705v4M187.5 629v3M234.5 597v2M343.5 769v3M267.5 629v3M540.5 787v3M92.5 633v2M1320.5 755v5M270.5 640v4M1190.5 645v2M709.5 722v2M1451.5 802v2M1121.5 666v3M1228.5 649v2M1383.5 787v3M1076.5 637v2M965.5 661v4M390.5 689v3M1476.5 727v4M969.5 644v4M960.5 681v4M1026.5 626v2M273.5 652v4M326.5 780v2M993.5 570v2M846.5 671v2M266.5 627v2M509.5 734v2M1291.5 627v4M135.5 673v2M357.5 722v3M926.5 650v2M1408.5 802v2M162.5 667v2M1011.5 585v3M117.5 638v4M389.5 687v2M568.5 775v2M1297.5 655v6M361.5 710v4M299.5 770v2M523.5 744v2M1175.5 670v2M530.5 761v2M1294.5 639v4M534.5 771v2M325.5 778v2M428.5 726v2M264.5 623v2M1311.5 706v4M497.5 718v2M402.5 709v2M432.5 736v2M962.5 673v4M924.5 646v2M939.5 666v2M942.5 672v2M559.5 790v2M1368.5 779v2M72.5 672v2M1460.5 782v3M1010.5 583v2M979.5 595v4M277.5 668v4M1016.5 598v3M351.5 739v3M712.5 717v2M183.5 638v3M708.5 724v2M529.5 758v3M1227.5 651v2M1440.5 795v2M1124.5 674v2M88.5 642v2M558.5 792v2M1459.5 785v2M84.5 650v2M401.5 707v2M198.5 606v3M986.5 579v2M434.5 740v2M128.5 668v2M628.5 726v2M766.5 696v2M624.5 733v2M1234.5 634v3M374.5 679v2M1086.5 655v2M95.5 626v2M569.5 773v2M977.5 604v5M1284.5 612v2M370.5 686v2M985.5 581v2M1462.5 775v3M1123.5 672v2M1478.5 720v4M161.5 669v2M113.5 629v2M1301.5 677v5M1078.5 641v2M623.5 735v2M1388.5 802v2M971.5 635v5M130.5 672v2M369.5 688v2M216.5 595v2M1021.5 613v3M348.5 750v4M723.5 669v3M1171.5 679v2M160.5 671v2M674.5 748v2M537.5 779v2M878.5 662v2M156.5 678v2M1249.5 611v2M360.5 714v3M152.5 685v2M137.5 677v3M1377.5 774v2M215.5 597v2M832.5 686v2M778.5 714v2M1080.5 644v2M1326.5 785v5M312.5 771v2M1390.5 806v2M256.5 611v2M359.5 717v3M525.5 748v3M854.5 659v2M195.5 614v2M87.5 644v2M1302.5 682v4M1458.5 787v2M704.5 733v2M1341.5 796v2M363.5 704v3M233.5 595v2M430.5 731v2M1475.5 731v3M427.5 724v2M700.5 740v2M1360.5 785v2M350.5 742v4M182.5 641v2M194.5 616v2M1371.5 772v2M1479.5 718v2M178.5 649v2M1446.5 806v2M190.5 623v2M941.5 670v2M202.5 597v2M354.5 730v3M345.5 761v4M258.5 614v2M703.5 735v2M669.5 741v2M524.5 746v2M1321.5 760v4M1242.5 617v2M772.5 703v2M531.5 763v3M366.5 694v3M622.5 737v2M201.5 599v2M618.5 744v2M429.5 728v3M1233.5 637v3M123.5 656v3M925.5 648v2M928.5 653v2M1434.5 789v2M813.5 707v2M1252.5 606v2M1237.5 626v3M1248.5 613v2M1286.5 616v2M1186.5 651v2M339.5 778v2M1236.5 629v2M812.5 709v2M118.5 642v4M1178.5 665v2M1455.5 793v3M908.5 659v2M122.5 654v2M1023.5 619v3M129.5 670v2M930.5 656v2M532.5 766v2M959.5 685v2M1082.5 648v2M314.5 775v2M1389.5 804v2M94.5 628v2M74.5 668v2M710.5 720v2M913.5 652v2M313.5 773v2M391.5 692v2M844.5 674v2M774.5 707v2M1182.5 659v2M136.5 675v2M736.5 670v2M163.5 665v2M172 658.5h1M855 658.5h1M874 658.5h2M909 658.5h1M931 658.5h2M1088 658.5h1M1101 658.5h1M1116 658.5h1M21 667.5h2M24 667.5h2M883 667.5h1M891 667.5h3M898 667.5h3M1177 667.5h1M601 753.5h2M606 753.5h6M679 753.5h9M169 661.5h1M877 661.5h1M907 661.5h1M1091 661.5h1M1098 661.5h1M1181 661.5h1M262 620.5h1M308 772.5h2M1372 772.5h4M549 799.5h2M552 799.5h2M476 722.5h1M634 722.5h3M403 711.5h2M415 711.5h1M794 711.5h18M13 672.5h2M55 672.5h2M171 659.5h1M933 659.5h2M1089 659.5h1M1100 659.5h1M1117 659.5h1M18 669.5h1M27 669.5h3M38 669.5h8M49 669.5h2M52 669.5h1M735 669.5h1M848 669.5h1M886 669.5h1M888 669.5h2M696 745.5h1M146 690.5h1M148 690.5h1M762 690.5h1M1305 690.5h1M245 603.5h1M1261 603.5h2M484 715.5h1M494 715.5h1M785 715.5h2M167 663.5h1M729 663.5h2M905 663.5h1M937 663.5h1M1094 663.5h1M1096 663.5h1M23 666.5h1M850 666.5h1M882 666.5h1M894 666.5h4M901 666.5h2M1359 787.5h1M1423 787.5h2M990 574.5h1M1004 574.5h2M210 599.5h1M213 599.5h2M235 599.5h1M599 754.5h2M114 631.5h1M1029 631.5h1M1068 631.5h2M386 681.5h1M748 681.5h2M837 681.5h2M950 681.5h1M1137 681.5h2M1146 681.5h1M1156 681.5h2M1170 681.5h1M443 737.5h3M449 737.5h2M452 737.5h1M511 737.5h2M662 737.5h3M140 684.5h1M756 684.5h2M954 684.5h1M1162 684.5h4M229 590.5h1M98 623.5h1M100 623.5h2M1045 623.5h1M1051 623.5h2M592 763.5h1M459 729.5h3M464 729.5h2M504 729.5h1M644 729.5h1M478 719.5h1M711 719.5h1M397 702.5h1M771 702.5h1M818 702.5h1M252 608.5h2M1251 608.5h1M1271 608.5h3M144 688.5h1M150 688.5h1M831 688.5h1M417 714.5h1M485 714.5h1M492 714.5h2M787 714.5h2M10 674.5h1M59 674.5h13M131 674.5h3M943 674.5h1M1351 792.5h5M1418 792.5h1M1436 792.5h2M174 656.5h1M858 656.5h1M870 656.5h1M1103 656.5h11M1219 656.5h2M483 716.5h1M495 716.5h1M713 716.5h1M779 716.5h6M581 767.5h2M155 680.5h1M747 680.5h1M839 680.5h1M949 680.5h1M1130 680.5h7M1147 680.5h2M1155 680.5h1M557 794.5h1M1346 794.5h3M1439 794.5h1M751 683.5h5M952 683.5h2M1142 683.5h2M1159 683.5h3M1166 683.5h2M97 624.5h1M102 624.5h1M106 624.5h2M1044 624.5h1M1053 624.5h2M175 655.5h1M859 655.5h7M868 655.5h2M911 655.5h1M929 655.5h1M1218 655.5h1M1221 655.5h2M914 651.5h1M1214 651.5h1M3 678.5h2M375 678.5h3M381 678.5h2M384 678.5h1M743 678.5h2M841 678.5h1M947 678.5h1M1151 678.5h2M222 586.5h1M224 586.5h2M16 670.5h2M30 670.5h8M46 670.5h3M53 670.5h1M847 670.5h1M887 670.5h1M1195 642.5h6M454 734.5h1M649 734.5h2M259 616.5h1M1243 616.5h4M143 687.5h1M151 687.5h1M760 687.5h1M170 660.5h1M935 660.5h1M1090 660.5h1M1099 660.5h1M1118 660.5h1M1191 644.5h2M1203 644.5h2M8 675.5h2M944 675.5h1M544 798.5h5M554 798.5h1M111 627.5h1M1036 627.5h2M1061 627.5h2M583 766.5h2M555 797.5h1M1411 797.5h3M1441 797.5h1M208 596.5h1M7 676.5h1M739 676.5h2M843 676.5h1M945 676.5h1M1125 676.5h1M112 628.5h1M1035 628.5h1M1063 628.5h2M336 781.5h2M564 781.5h1M1363 781.5h3M96 625.5h1M103 625.5h3M108 625.5h2M1039 625.5h5M1055 625.5h3M1391 808.5h1M1399 808.5h1M1447 808.5h1M1030 632.5h1M1032 632.5h1M1070 632.5h1M311 770.5h1M571 770.5h2M419 717.5h3M481 717.5h2M496 717.5h1M147 691.5h1M763 691.5h1M829 691.5h1M1306 691.5h1M991 573.5h1M1003 573.5h1M238 601.5h1M242 601.5h2M651 735.5h7M81 653.5h2M1216 653.5h1M1225 653.5h2M395 700.5h1M769 700.5h1M821 700.5h2M1333 804.5h2M1407 804.5h1M1450 804.5h1M173 657.5h1M856 657.5h2M871 657.5h3M1087 657.5h1M1102 657.5h1M1114 657.5h2M1358 788.5h1M1422 788.5h1M249 606.5h2M1267 606.5h2M239 602.5h3M244 602.5h1M1255 602.5h6M613 751.5h1M676 751.5h2M689 751.5h1M994 569.5h1M997 569.5h2M1034 629.5h1M1065 629.5h2M916 649.5h1M1212 649.5h1M5 677.5h2M157 677.5h1M383 677.5h1M741 677.5h2M842 677.5h1M946 677.5h1M19 668.5h2M26 668.5h1M51 668.5h1M734 668.5h1M884 668.5h2M890 668.5h1M330 784.5h1M332 784.5h2M1361 784.5h1M1430 784.5h2M470 725.5h1M640 725.5h1M566 778.5h1M378 679.5h3M745 679.5h2M840 679.5h1M948 679.5h1M1127 679.5h3M1149 679.5h2M1153 679.5h2M1416 795.5h1M303 777.5h1M315 777.5h3M567 777.5h1M307 773.5h1M1376 773.5h1M750 682.5h1M835 682.5h2M951 682.5h1M1139 682.5h3M1144 682.5h2M1158 682.5h1M1168 682.5h2M204 595.5h4M1394 811.5h1M1396 811.5h1M1403 811.5h1M596 758.5h1M425 721.5h1M499 721.5h1M631 721.5h3M145 689.5h1M149 689.5h1M1304 689.5h1M142 686.5h1M759 686.5h1M958 686.5h1M575 768.5h6M603 752.5h3M612 752.5h1M678 752.5h1M688 752.5h1M918 647.5h1M1189 647.5h1M1209 647.5h2M474 723.5h2M637 723.5h2M917 648.5h1M1211 648.5h1M15 671.5h1M54 671.5h1M407 709.5h6M775 709.5h1M614 750.5h1M675 750.5h1M690 750.5h1M995 568.5h2M446 736.5h3M510 736.5h1M658 736.5h4M515 739.5h1M667 739.5h1M701 739.5h1M516 740.5h2M668 740.5h1M220 588.5h1M227 588.5h1M80 654.5h1M866 654.5h2M912 654.5h1M1217 654.5h1M1223 654.5h2M487 712.5h3M791 712.5h3M671 744.5h1M697 744.5h1M165 664.5h2M731 664.5h1M879 664.5h1M904 664.5h1M1095 664.5h1M1179 664.5h1M1343 793.5h3M1349 793.5h2M1438 793.5h1M1072 634.5h2M1393 810.5h1M1397 810.5h1M1402 810.5h1M405 710.5h2M413 710.5h2M598 755.5h1M915 650.5h1M1083 650.5h1M1187 650.5h1M1213 650.5h1M223 585.5h1M468 726.5h2M641 726.5h1M141 685.5h1M371 685.5h1M758 685.5h1M833 685.5h1M955 685.5h3M587 764.5h5M617 746.5h1M695 746.5h1M458 730.5h1M462 730.5h2M505 730.5h1M398 703.5h1M816 703.5h2M919 646.5h2M1207 646.5h2M1079 643.5h1M1193 643.5h2M1201 643.5h2M435 742.5h5M519 742.5h2M699 742.5h1M247 605.5h2M1253 605.5h1M1265 605.5h2M328 783.5h2M334 783.5h1M442 738.5h1M451 738.5h1M513 738.5h2M665 738.5h2M440 741.5h1M518 741.5h1M988 577.5h1M164 665.5h1M732 665.5h1M851 665.5h1M880 665.5h2M903 665.5h1M110 626.5h1M1038 626.5h1M1058 626.5h3M921 645.5h2M1205 645.5h2M246 604.5h1M1263 604.5h2M305 775.5h1M322 775.5h2M1338 801.5h1M11 673.5h2M57 673.5h2M134 673.5h1M845 673.5h1M1414 796.5h2M466 728.5h1M503 728.5h1M627 728.5h1M643 728.5h1M692 748.5h2M99 622.5h1M191 622.5h1M1046 622.5h1M1049 622.5h2M211 600.5h2M236 600.5h2M1448 807.5h1M1421 789.5h1M230 591.5h1M457 731.5h1M506 731.5h1M456 732.5h1M507 732.5h1M646 732.5h1M399 704.5h1M815 704.5h1M1075 636.5h1M255 610.5h1M1281 610.5h2M83 652.5h1M927 652.5h1M1215 652.5h1M768 699.5h1M823 699.5h1M1332 805.5h1M615 749.5h1M691 749.5h1M396 701.5h1M770 701.5h1M819 701.5h2M422 718.5h2M479 718.5h2M1031 633.5h1M1071 633.5h1M251 607.5h1M1269 607.5h2M1392 809.5h1M1398 809.5h1M1400 809.5h2M471 724.5h3M639 724.5h1M1028 630.5h1M1067 630.5h1M992 572.5h1M1002 572.5h1M987 578.5h1M221 587.5h1M226 587.5h1M301 774.5h1M306 774.5h1M1335 803.5h1M673 747.5h1M694 747.5h1M595 759.5h1M254 609.5h1M1274 609.5h7M521 743.5h2M619 743.5h1M670 743.5h1M698 743.5h1M486 713.5h1M490 713.5h2M789 713.5h2M331 785.5h1M1427 785.5h3M168 662.5h1M727 662.5h2M906 662.5h1M1092 662.5h2M1097 662.5h1M304 776.5h1M318 776.5h4M1378 776.5h1M827 694.5h1M585 765.5h2M1356 791.5h1M1419 791.5h1M1435 791.5h1M228 589.5h1M551 800.5h1M1339 800.5h1M467 727.5h1M642 727.5h1M1283 611.5h1M1074 635.5h1M767 698.5h1M824 698.5h1M455 733.5h1M508 733.5h1M647 733.5h2M1047 621.5h2M231 592.5h1M594 760.5h1M1425 786.5h2M826 695.5h1M1336 802.5h2M573 769.5h2M327 782.5h1M335 782.5h1M1366 782.5h1M310 771.5h1M1241 619.5h1M1395 812.5h1M1420 790.5h1M1006 575.5h1M257 613.5h1M338 780.5h1M1000 571.5h2M498 720.5h1M999 570.5h1M260 617.5h1" fill="none" stroke="#c0c0c0" stroke-width="1"/>
<path d="M274.5 617v2M997.5 602v2M137.5 647v2M281.5 632v2M1005.5 584v2M282.5 634v3M1328.5 713v4M1318.5 669v4M285.5 643v4M1331.5 726v5M221.5 601v2M1254.5 627v2M1310.5 643v2M1311.5 645v3M98.5 651v2M727.5 710v3M1327.5 708v5M525.5 731v2M196.5 641v2M1341.5 764v3M1004.5 586v2M1296.5 614v2M536.5 745v2M1347.5 780v3M1333.5 735v4M291.5 663v4M845.5 690v2M557.5 781v2M1334.5 739v4M136.5 645v2M1316.5 661v4M738.5 686v2M307.5 726v3M280.5 629v3M308.5 729v4M1330.5 722v4M1476.5 777v2M301.5 702v4M1323.5 690v5M380.5 707v2M629.5 745v2M297.5 686v4M1342.5 767v3M1298.5 617v2M538.5 749v2M1319.5 673v4M363.5 753v3M286.5 647v3M1346.5 778v2M721.5 726v3M1475.5 779v2M1322.5 686v4M317.5 757v2M289.5 656v4M290.5 660v3M417.5 700v2M1312.5 648v3M379.5 709v3M1315.5 658v3M306.5 722v4M973.5 667v2M985.5 639v3M302.5 706v4M1024.5 585v2M370.5 735v3M1335.5 743v4M728.5 708v2M1325.5 699v5M1028.5 591v2M275.5 619v2M378.5 712v3M1338.5 754v4M106.5 639v2M312.5 743v3M1258.5 621v2M315.5 752v3M1307.5 635v3M102.5 645v2M316.5 755v2M305.5 718v4M988.5 630v3M369.5 738v2M857.5 676v2M186.5 658v2M1038.5 608v2M353.5 771v2M735.5 692v2M298.5 690v4M209.5 618v2M373.5 726v3M1000.5 594v2M1348.5 783v2M979.5 656v2M1026.5 588v2M1030.5 595v2M987.5 633v3M294.5 675v4M1337.5 751v3M734.5 694v2M311.5 740v3M1305.5 631v2M208.5 620v2M991.5 620v3M1306.5 633v2M372.5 729v3M546.5 764v2M549.5 769v2M999.5 596v3M204.5 627v2M304.5 714v4M1472.5 785v2M978.5 658v2M1036.5 605v2M1326.5 704v4M200.5 634v2M724.5 718v3M1343.5 770v3M1349.5 785v2M990.5 623v3M1032.5 598v2M138.5 649v2M362.5 756v2M548.5 767v2M989.5 626v4M720.5 729v2M358.5 764v2M716.5 737v2M295.5 679v3M148.5 666v2M214.5 610v2M993.5 613v4M1300.5 621v2M386.5 695v2M540.5 752v2M288.5 653v3M217.5 606v2M1250.5 633v2M140.5 652v2M723.5 721v3M385.5 697v2M996.5 604v3M184.5 662v2M150.5 669v2M153.5 673v2M1299.5 619v2M542.5 756v2M180.5 668v2M1320.5 677v4M287.5 650v3M318.5 759v2M1309.5 640v3M730.5 703v2M1256.5 624v2M100.5 648v2M371.5 732v3M96.5 654v2M198.5 637v2M375.5 720v3M313.5 746v3M194.5 644v2M981.5 651v2M719.5 731v2M320.5 762v2M190.5 651v2M1197.5 661v2M366.5 746v2M1478.5 773v2M1345.5 775v3M1474.5 781v2M382.5 703v2M292.5 667v4M189.5 653v2M277.5 623v2M1034.5 602v2M185.5 660v2M284.5 640v3M1317.5 665v4M529.5 736v2M984.5 642v3M1477.5 775v2M550.5 771v2M1473.5 783v2M132.5 639v2M1340.5 761v3M1261.5 617v2M1041.5 612v2M1302.5 625v2M314.5 749v3M1350.5 787v2M729.5 705v3M1029.5 593v2M276.5 621v2M142.5 656v2M1006.5 582v2M368.5 740v3M726.5 713v3M283.5 637v3M212.5 613v2M1329.5 717v5M300.5 698v4M104.5 642v2M552.5 774v2M134.5 642v2M296.5 682v4M1339.5 758v3M1321.5 681v5M1301.5 623v2M541.5 754v2M544.5 760v2M980.5 653v3M1332.5 731v4M1201.5 656v2M1314.5 655v3M141.5 654v2M144.5 659v2M533.5 741v2M365.5 748v3M992.5 617v3M554.5 777v2M1324.5 695v4M381.5 705v2M722.5 724v2M543.5 758v2M322.5 766v2M1313.5 651v4M995.5 607v3M109.5 635v2M1003.5 588v2M261.5 602v2M1336.5 747v4M279.5 627v2M994.5 610v3M737.5 688v2M310.5 736v4M1002.5 590v2M1308.5 638v2M303.5 710v4M321.5 764v2M324.5 769v2M977.5 660v2M736.5 690v2M299.5 694v4M210.5 616v2M374.5 723v3M1001.5 592v2M206.5 623v2M976.5 662v2M202.5 630v2M278.5 625v2M309.5 733v3M731.5 700v3M205.5 625v2M326.5 772v2M201.5 632v2M975.5 664v2M983.5 645v3M197.5 639v2M1344.5 773v2M364.5 751v2M1303.5 627v2M849.5 685v2M193.5 646v2M718.5 733v2M1033.5 600v2M146.5 663v2M376.5 717v3M982.5 648v3M192.5 648v2M359.5 762v2M272.5 614v2M717.5 735v2M741.5 682v2M1248.5 636v2M188.5 655v2M293.5 671v4M986.5 636v3M367.5 743v3M713.5 741v2M725.5 716v2M1304.5 629v2M733.5 696v2M545.5 762v2M998.5 599v3M1193.5 666v2M145.5 661v2M537.5 747v2M732.5 698v2M585.5 778v2M361.5 758v2M861.5 671v2M377.5 715v2M360.5 760v2M356.5 767v2M93.5 658v2M384.5 699v2M1252.5 630v2M383.5 701v2M182.5 665v2M1356 794.5h2M1363 794.5h2M1402 794.5h1M1435 794.5h2M1450 794.5h12M1359 796.5h2M1404 796.5h1M1432 796.5h2M3 681.5h7M742 681.5h1M767 681.5h1M853 681.5h1M1162 681.5h8M427 711.5h1M803 711.5h3M814 711.5h3M395 688.5h7M774 688.5h1M847 688.5h1M449 729.5h2M479 729.5h2M523 729.5h1M650 729.5h4M658 729.5h4M91 661.5h1M873 661.5h2M894 661.5h3M919 661.5h1M951 661.5h1M1125 661.5h2M1100 648.5h2M1211 648.5h3M1226 648.5h7M418 702.5h1M789 702.5h1M833 702.5h2M216 608.5h1M266 608.5h1M1273 608.5h2M1289 608.5h2M421 705.5h1M792 705.5h2M827 705.5h2M38 670.5h8M58 670.5h8M77 670.5h2M179 670.5h1M862 670.5h1M960 670.5h2M971 670.5h1M1141 670.5h1M1190 670.5h1M107 638.5h1M131 638.5h1M1090 638.5h1M1247 638.5h1M1354 792.5h1M1367 792.5h1M1400 792.5h1M1439 792.5h7M1465 792.5h2M1418 804.5h4M597 767.5h1M84 667.5h2M181 667.5h1M865 667.5h1M957 667.5h1M1138 667.5h1M357 766.5h1M547 766.5h1M598 766.5h1M94 657.5h1M187 657.5h1M925 657.5h2M945 657.5h2M1115 657.5h2M438 720.5h1M495 720.5h3M509 720.5h2M1355 793.5h1M1365 793.5h2M1401 793.5h1M1437 793.5h2M1446 793.5h4M1462 793.5h3M88 664.5h1M183 664.5h1M868 664.5h2M902 664.5h12M954 664.5h1M1133 664.5h2M1195 664.5h1M934 654.5h4M1109 654.5h2M1203 654.5h1M393 689.5h2M402 689.5h3M775 689.5h1M846 689.5h1M566 789.5h8M1351 789.5h1M1371 789.5h1M1396 789.5h2M1469 789.5h1M616 757.5h2M411 695.5h1M782 695.5h1M841 695.5h1M423 707.5h1M795 707.5h2M823 707.5h2M561 786.5h1M578 786.5h1M1374 786.5h1M1392 786.5h2M29 673.5h2M176 673.5h1M751 673.5h9M860 673.5h1M1145 673.5h2M1186 673.5h1M143 658.5h1M923 658.5h2M947 658.5h1M1117 658.5h2M1200 658.5h1M17 678.5h2M158 678.5h1M166 678.5h3M745 678.5h1M764 678.5h1M856 678.5h1M1153 678.5h2M1178 678.5h2M25 675.5h2M154 675.5h1M173 675.5h2M748 675.5h2M761 675.5h1M858 675.5h1M1148 675.5h2M1183 675.5h1M389 692.5h1M408 692.5h1M778 692.5h1M844 692.5h1M452 731.5h2M475 731.5h2M646 731.5h1M666 731.5h2M1052 623.5h2M1257 623.5h1M195 643.5h1M1095 643.5h1M1242 643.5h1M436 719.5h2M498 719.5h11M46 669.5h12M79 669.5h3M863 669.5h1M959 669.5h1M972 669.5h1M1140 669.5h1M1191 669.5h1M1097 645.5h1M1238 645.5h2M27 674.5h2M175 674.5h1M750 674.5h1M760 674.5h1M859 674.5h1M1147 674.5h1M1184 674.5h2M225 597.5h1M255 597.5h1M1031 597.5h1M19 677.5h3M156 677.5h2M169 677.5h2M746 677.5h1M763 677.5h1M1151 677.5h2M1180 677.5h2M439 721.5h1M493 721.5h2M511 721.5h3M105 641.5h1M133 641.5h1M1093 641.5h1M1244 641.5h1M878 659.5h12M922 659.5h1M948 659.5h2M1119 659.5h3M1199 659.5h1M1358 795.5h1M1361 795.5h2M1403 795.5h1M1434 795.5h1M462 735.5h7M528 735.5h1M640 735.5h2M672 735.5h2M220 603.5h1M424 708.5h1M797 708.5h2M821 708.5h2M139 651.5h1M1104 651.5h2M1207 651.5h1M329 775.5h2M349 775.5h2M588 775.5h1M103 644.5h1M135 644.5h1M1096 644.5h1M1240 644.5h2M268 610.5h1M1039 610.5h1M1269 610.5h2M1292 610.5h1M415 698.5h1M785 698.5h1M838 698.5h1M97 653.5h1M1107 653.5h2M1204 653.5h2M535 744.5h1M630 744.5h1M689 744.5h2M711 744.5h1M231 593.5h3M238 593.5h4M441 723.5h1M489 723.5h2M516 723.5h2M10 680.5h4M743 680.5h1M766 680.5h1M854 680.5h1M1158 680.5h4M1170 680.5h4M447 728.5h2M481 728.5h2M522 728.5h1M654 728.5h4M691 745.5h3M709 745.5h2M90 662.5h1M871 662.5h2M897 662.5h2M917 662.5h2M952 662.5h1M1127 662.5h3M391 690.5h2M405 690.5h2M776 690.5h1M1409 800.5h2M1427 800.5h1M1106 652.5h1M1206 652.5h1M264 606.5h1M1278 606.5h8M622 753.5h1M1413 802.5h2M1424 802.5h2M1415 803.5h3M1422 803.5h2M1407 799.5h2M1428 799.5h2M215 609.5h1M267 609.5h1M1271 609.5h2M1291 609.5h1M563 788.5h3M574 788.5h2M1372 788.5h1M1395 788.5h1M1470 788.5h1M387 694.5h1M410 694.5h1M780 694.5h2M842 694.5h1M95 656.5h1M927 656.5h3M942 656.5h3M1113 656.5h2M229 594.5h2M242 594.5h8M443 725.5h1M486 725.5h1M519 725.5h1M273 616.5h1M1044 616.5h1M1262 616.5h1M1297 616.5h1M265 607.5h1M1037 607.5h1M1275 607.5h3M1286 607.5h3M34 671.5h4M66 671.5h11M151 671.5h1M178 671.5h1M962 671.5h1M969 671.5h2M1142 671.5h1M1188 671.5h2M92 660.5h1M875 660.5h3M890 660.5h4M920 660.5h2M950 660.5h1M1122 660.5h3M1198 660.5h1M86 666.5h1M866 666.5h1M956 666.5h1M974 666.5h1M1136 666.5h2M14 679.5h3M159 679.5h7M744 679.5h1M765 679.5h1M855 679.5h1M1155 679.5h3M1174 679.5h4M562 787.5h1M576 787.5h2M1373 787.5h1M1394 787.5h1M1471 787.5h1M331 776.5h3M347 776.5h2M553 776.5h1M587 776.5h1M323 768.5h1M596 768.5h1M327 774.5h2M351 774.5h1M589 774.5h1M560 785.5h1M579 785.5h1M1375 785.5h2M1390 785.5h2M440 722.5h1M491 722.5h2M514 722.5h2M111 633.5h2M126 633.5h1M1084 633.5h2M89 663.5h1M870 663.5h1M899 663.5h3M914 663.5h3M953 663.5h1M1130 663.5h3M1196 663.5h1M31 672.5h3M152 672.5h1M177 672.5h1M963 672.5h6M1143 672.5h2M1187 672.5h1M740 684.5h1M770 684.5h1M850 684.5h1M334 777.5h4M345 777.5h2M586 777.5h1M82 668.5h2M149 668.5h1M864 668.5h1M958 668.5h1M1139 668.5h1M1192 668.5h1M430 713.5h1M615 758.5h1M419 703.5h1M790 703.5h1M831 703.5h2M1055 625.5h15M420 704.5h1M791 704.5h1M829 704.5h2M213 612.5h1M270 612.5h1M1266 612.5h1M1294 612.5h1M224 598.5h1M256 598.5h2M623 752.5h1M628 747.5h1M698 747.5h8M638 737.5h1M675 737.5h2M426 710.5h1M801 710.5h2M817 710.5h2M559 784.5h1M580 784.5h1M1377 784.5h2M1386 784.5h4M428 712.5h2M806 712.5h8M446 727.5h1M483 727.5h1M521 727.5h1M606 762.5h3M772 686.5h1M1411 801.5h2M1426 801.5h1M773 687.5h1M848 687.5h1M591 772.5h1M1479 772.5h1M558 783.5h1M581 783.5h1M1379 783.5h7M223 599.5h1M258 599.5h1M227 595.5h2M250 595.5h3M433 716.5h1M583 781.5h1M234 592.5h4M454 732.5h1M473 732.5h2M644 732.5h2M668 732.5h2M1077 628.5h2M101 647.5h1M1099 647.5h1M1214 647.5h4M1222 647.5h4M1233 647.5h2M632 742.5h1M685 742.5h2M1010 579.5h1M1017 579.5h2M414 697.5h1M784 697.5h1M839 697.5h1M211 615.5h1M1043 615.5h1M1263 615.5h1M451 730.5h1M477 730.5h2M524 730.5h1M647 730.5h3M662 730.5h4M226 596.5h1M253 596.5h2M694 746.5h4M706 746.5h3M1405 797.5h1M1431 797.5h1M352 773.5h1M551 773.5h1M590 773.5h1M425 709.5h1M799 709.5h2M819 709.5h2M260 601.5h1M1008 580.5h2M1019 580.5h1M435 718.5h1M113 632.5h2M124 632.5h2M1083 632.5h1M1251 632.5h1M87 665.5h1M147 665.5h1M867 665.5h1M955 665.5h1M1135 665.5h1M1194 665.5h1M1042 614.5h1M1264 614.5h1M930 655.5h4M938 655.5h4M1111 655.5h2M1202 655.5h1M531 739.5h1M635 739.5h1M679 739.5h2M715 739.5h1M1098 646.5h1M1218 646.5h4M1235 646.5h3M1092 640.5h1M1245 640.5h1M603 763.5h3M627 748.5h1M788 701.5h1M835 701.5h1M455 733.5h3M471 733.5h2M526 733.5h1M643 733.5h1M670 733.5h1M115 631.5h3M122 631.5h2M1082 631.5h1M422 706.5h1M794 706.5h1M825 706.5h2M219 604.5h1M262 604.5h1M1035 604.5h1M269 611.5h1M1040 611.5h1M1267 611.5h2M1293 611.5h1M1102 649.5h1M1210 649.5h1M108 637.5h1M130 637.5h1M1089 637.5h1M110 634.5h1M127 634.5h1M1086 634.5h1M338 778.5h7M203 629.5h1M1079 629.5h1M1253 629.5h1M1007 581.5h1M1020 581.5h1M1352 790.5h1M1370 790.5h1M1398 790.5h1M1468 790.5h1M129 636.5h1M199 636.5h1M1088 636.5h1M582 782.5h1M769 683.5h1M851 683.5h1M458 734.5h4M469 734.5h2M527 734.5h1M642 734.5h1M671 734.5h1M354 770.5h1M594 770.5h1M739 685.5h1M771 685.5h1M1353 791.5h1M1368 791.5h2M1399 791.5h1M1467 791.5h1M539 751.5h1M624 751.5h1M1070 626.5h4M1255 626.5h1M319 761.5h1M609 761.5h2M118 630.5h4M1080 630.5h2M1091 639.5h1M1246 639.5h1M442 724.5h1M487 724.5h2M518 724.5h1M99 650.5h1M191 650.5h1M1103 650.5h1M1208 650.5h2M530 738.5h1M636 738.5h2M677 738.5h2M431 714.5h1M444 726.5h2M484 726.5h2M520 726.5h1M390 691.5h1M407 691.5h1M777 691.5h1M633 741.5h1M683 741.5h2M532 740.5h1M634 740.5h1M681 740.5h2M714 740.5h1M412 696.5h2M783 696.5h1M840 696.5h1M22 676.5h3M155 676.5h1M171 676.5h2M747 676.5h1M762 676.5h1M1150 676.5h1M1182 676.5h1M207 622.5h1M1051 622.5h1M1406 798.5h1M1430 798.5h1M388 693.5h1M409 693.5h1M779 693.5h1M843 693.5h1M355 769.5h1M595 769.5h1M613 759.5h2M1046 618.5h1M1047 619.5h1M1260 619.5h1M416 699.5h1M786 699.5h1M837 699.5h1M639 736.5h1M674 736.5h1M218 605.5h1M263 605.5h1M128 635.5h1M1087 635.5h1M1249 635.5h1M1094 642.5h1M1243 642.5h1M222 600.5h1M259 600.5h1M434 717.5h1M1011 578.5h6M534 743.5h1M631 743.5h1M687 743.5h2M712 743.5h1M556 780.5h1M584 780.5h1M1054 624.5h1M601 764.5h2M1048 620.5h2M1259 620.5h1M620 754.5h2M1050 621.5h1M1074 627.5h3M1045 617.5h1M1023 584.5h1M611 760.5h2M768 682.5h1M852 682.5h1M432 715.5h1M625 750.5h1M555 779.5h1M271 613.5h1M1265 613.5h1M1295 613.5h1M787 700.5h1M836 700.5h1M599 765.5h2M618 756.5h1M1021 582.5h1M1022 583.5h1M325 771.5h1M592 771.5h2M619 755.5h1M626 749.5h1M1025 587.5h1M1027 590.5h1" fill="none" stroke="#000" stroke-width="1"/>
<rect x="2" y="2" width="1487" height="1" fill="#000"/>
<rect x="2" y="2" width="1" height="550" fill="#000"/>
<rect x="2" y="551" width="1487" height="1" fill="#000"/>
<rect x="2" y="553" width="1487" height="1" fill="#000"/>
<rect x="2" y="553" width="1" height="274" fill="#000"/>
<rect x="2" y="826" width="1487" height="1" fill="#000"/>
<rect x="1488" y="2" width="1" height="825" fill="#000"/>
<rect x="1489" y="42" width="2" height="1" fill="#000"/>
<rect x="1489" y="91" width="2" height="1" fill="#000"/>
<rect x="1489" y="140" width="2" height="1" fill="#000"/>
<rect x="1489" y="189" width="2" height="1" fill="#000"/>
<rect x="1489" y="238" width="2" height="1" fill="#000"/>
<rect x="1489" y="287" width="2" height="1" fill="#000"/>
<rect x="1489" y="336" width="2" height="1" fill="#000"/>
<rect x="1489" y="385" width="2" height="1" fill="#000"/>
<rect x="1489" y="434" width="2" height="1" fill="#000"/>
<rect x="1489" y="483" width="2" height="1" fill="#000"/>
<rect x="1489" y="532" width="2" height="1" fill="#000"/>
<rect x="1489" y="555" width="1" height="1" fill="#000"/>
<rect x="1489" y="717" width="1" height="1" fill="#000"/>
<rect x="1489" y="826" width="1" height="1" fill="#000"/>
<rect x="3" y="827" width="1" height="4" fill="#000"/>
<rect x="99" y="827" width="1" height="4" fill="#000"/>
<rect x="195" y="827" width="1" height="4" fill="#000"/>
<rect x="291" y="827" width="1" height="4" fill="#000"/>
<rect x="387" y="827" width="1" height="4" fill="#000"/>
<rect x="483" y="827" width="1" height="4" fill="#000"/>
<rect x="579" y="827" width="1" height="4" fill="#000"/>
<rect x="675" y="827" width="1" height="4" fill="#000"/>
<rect x="771" y="827" width="1" height="4" fill="#000"/>
<rect x="867" y="827" width="1" height="4" fill="#000"/>
<rect x="963" y="827" width="1" height="4" fill="#000"/>
<rect x="1059" y="827" width="1" height="4" fill="#000"/>
<rect x="1155" y="827" width="1" height="4" fill="#000"/>
<rect x="1251" y="827" width="1" height="4" fill="#000"/>
<rect x="1347" y="827" width="1" height="4" fill="#000"/>
<rect x="1443" y="827" width="1" height="4" fill="#000"/>
<rect x="6" y="10" width="9" height="1" fill="#000"/>
<rect x="7" y="11" width="7" height="1" fill="#000"/>
<rect x="8" y="12" width="5" height="1" fill="#000"/>
<rect x="9" y="13" width="3" height="1" fill="#000"/>
<rect x="10" y="14" width="1" height="1" fill="#000"/>
<g text-rendering="geometricPrecision">
<text class="t" x="1495" y="47" fill="#000" textLength="60" lengthAdjust="spacingAndGlyphs">57499.840</text>
<text class="t" x="1495" y="96" fill="#000" textLength="60" lengthAdjust="spacingAndGlyphs">54549.550</text>
<text class="t" x="1495" y="145" fill="#000" textLength="60" lengthAdjust="spacingAndGlyphs">51599.260</text>
<text class="t" x="1495" y="194" fill="#000" textLength="60" lengthAdjust="spacingAndGlyphs">48648.970</text>
<text class="t" x="1495" y="243" fill="#000" textLength="60" lengthAdjust="spacingAndGlyphs">45698.680</text>
<text class="t" x="1495" y="292" fill="#000" textLength="60" lengthAdjust="spacingAndGlyphs">42688.180</text>
<text class="t" x="1495" y="341" fill="#000" textLength="60" lengthAdjust="spacingAndGlyphs">39737.890</text>
<text class="t" x="1495" y="390" fill="#000" textLength="60" lengthAdjust="spacingAndGlyphs">36787.600</text>
<text class="t" x="1495" y="439" fill="#000" textLength="60" lengthAdjust="spacingAndGlyphs">33837.310</text>
<text class="t" x="1495" y="488" fill="#000" textLength="60" lengthAdjust="spacingAndGlyphs">30887.020</text>
<text class="t" x="1495" y="537" fill="#000" textLength="60" lengthAdjust="spacingAndGlyphs">27936.730</text>
<text class="t" x="1492" y="567" fill="#000" textLength="53" lengthAdjust="spacingAndGlyphs">2650.845</text>
<text class="t" x="1492" y="722" fill="#000" textLength="25" lengthAdjust="spacingAndGlyphs">0.00</text>
<text class="t" x="1492" y="823" fill="#000" textLength="57" lengthAdjust="spacingAndGlyphs">-1760.703</text>
<text class="t" x="2" y="842" fill="#000" textLength="71.6" lengthAdjust="spacingAndGlyphs">30 Dec 2020</text>
<text class="t" x="98" y="842" fill="#000" textLength="64.3" lengthAdjust="spacingAndGlyphs">3 Jan 12:00</text>
<text class="t" x="194" y="842" fill="#000" textLength="64.3" lengthAdjust="spacingAndGlyphs">7 Jan 12:00</text>
<text class="t" x="290" y="842" fill="#000" textLength="71.2" lengthAdjust="spacingAndGlyphs">11 Jan 12:00</text>
<text class="t" x="386" y="842" fill="#000" textLength="71.2" lengthAdjust="spacingAndGlyphs">15 Jan 12:00</text>
<text class="t" x="482" y="842" fill="#000" textLength="71.2" lengthAdjust="spacingAndGlyphs">19 Jan 12:00</text>
<text class="t" x="578" y="842" fill="#000" textLength="71.2" lengthAdjust="spacingAndGlyphs">23 Jan 12:00</text>
<text class="t" x="674" y="842" fill="#000" textLength="71.2" lengthAdjust="spacingAndGlyphs">27 Jan 12:00</text>
<text class="t" x="770" y="842" fill="#000" textLength="71.2" lengthAdjust="spacingAndGlyphs">31 Jan 12:00</text>
<text class="t" x="866" y="842" fill="#000" textLength="65.8" lengthAdjust="spacingAndGlyphs">4 Feb 12:00</text>
<text class="t" x="962" y="842" fill="#000" textLength="65.8" lengthAdjust="spacingAndGlyphs">8 Feb 12:00</text>
<text class="t" x="1058" y="842" fill="#000" textLength="73" lengthAdjust="spacingAndGlyphs">12 Feb 12:00</text>
<text class="t" x="1154" y="842" fill="#000" textLength="73" lengthAdjust="spacingAndGlyphs">16 Feb 12:00</text>
<text class="t" x="1250" y="842" fill="#000" textLength="73" lengthAdjust="spacingAndGlyphs">20 Feb 12:00</text>
<text class="t" x="1346" y="842" fill="#000" textLength="73" lengthAdjust="spacingAndGlyphs">24 Feb 12:00</text>
<text class="t" x="1442" y="842" fill="#000" textLength="73" lengthAdjust="spacingAndGlyphs">28 Feb 12:00</text>
<text class="t" x="21" y="17" fill="#000" textLength="63.5" lengthAdjust="spacingAndGlyphs">BTCUSD,H4</text>
<text class="t" x="92" y="17" fill="#000" textLength="60" lengthAdjust="spacingAndGlyphs">48829.300</text>
<text class="t" x="156.7" y="17" fill="#000" textLength="60" lengthAdjust="spacingAndGlyphs">50213.000</text>
<text class="t" x="220.2" y="17" fill="#000" textLength="60" lengthAdjust="spacingAndGlyphs">48624.500</text>
<text class="t" x="284.2" y="17" fill="#000" textLength="60" lengthAdjust="spacingAndGlyphs">50195.500</text>
<text class="t" x="7" y="569" fill="#000" textLength="85" lengthAdjust="spacingAndGlyphs">MACD(12,26,9)</text>
<text class="t" x="95.3" y="569" fill="#000" textLength="39.3" lengthAdjust="spacingAndGlyphs">7.2759</text>
<text class="t" x="139.5" y="569" fill="#000" textLength="55.5" lengthAdjust="spacingAndGlyphs">-854.3261</text>
<text class="t" x="203.7" y="569" fill="#000" textLength="47.3" lengthAdjust="spacingAndGlyphs">-&gt;MA(1)</text>
<text class="t" x="255.2" y="569" fill="#000" textLength="39.3" lengthAdjust="spacingAndGlyphs">7.2759</text>
<rect x="1490" y="140" width="70" height="14" fill="#ff0000" shape-rendering="crispEdges"/>
<text class="t" x="1495" y="152" fill="#fff" textLength="60" lengthAdjust="spacingAndGlyphs">51218.186</text>
<rect x="1490" y="199" width="70" height="14" fill="#ff0000" shape-rendering="crispEdges"/>
<text class="t" x="1495" y="211" fill="#fff" textLength="60" lengthAdjust="spacingAndGlyphs">47664.199</text>
<rect x="1490" y="265" width="70" height="14" fill="#ff0000" shape-rendering="crispEdges"/>
<text class="t" x="1495" y="277" fill="#fff" textLength="60" lengthAdjust="spacingAndGlyphs">43706.735</text>
<rect x="1490" y="505" width="70" height="14" fill="#ff0000" shape-rendering="crispEdges"/>
<text class="t" x="1495" y="517" fill="#fff" textLength="60" lengthAdjust="spacingAndGlyphs">29156.761</text>
<rect x="1490" y="156" width="70" height="14" fill="#000" shape-rendering="crispEdges"/>
<text class="t" x="1495" y="168" fill="#fff" textLength="60" lengthAdjust="spacingAndGlyphs">50195.500</text>
</g>
</svg>
</body></html>
